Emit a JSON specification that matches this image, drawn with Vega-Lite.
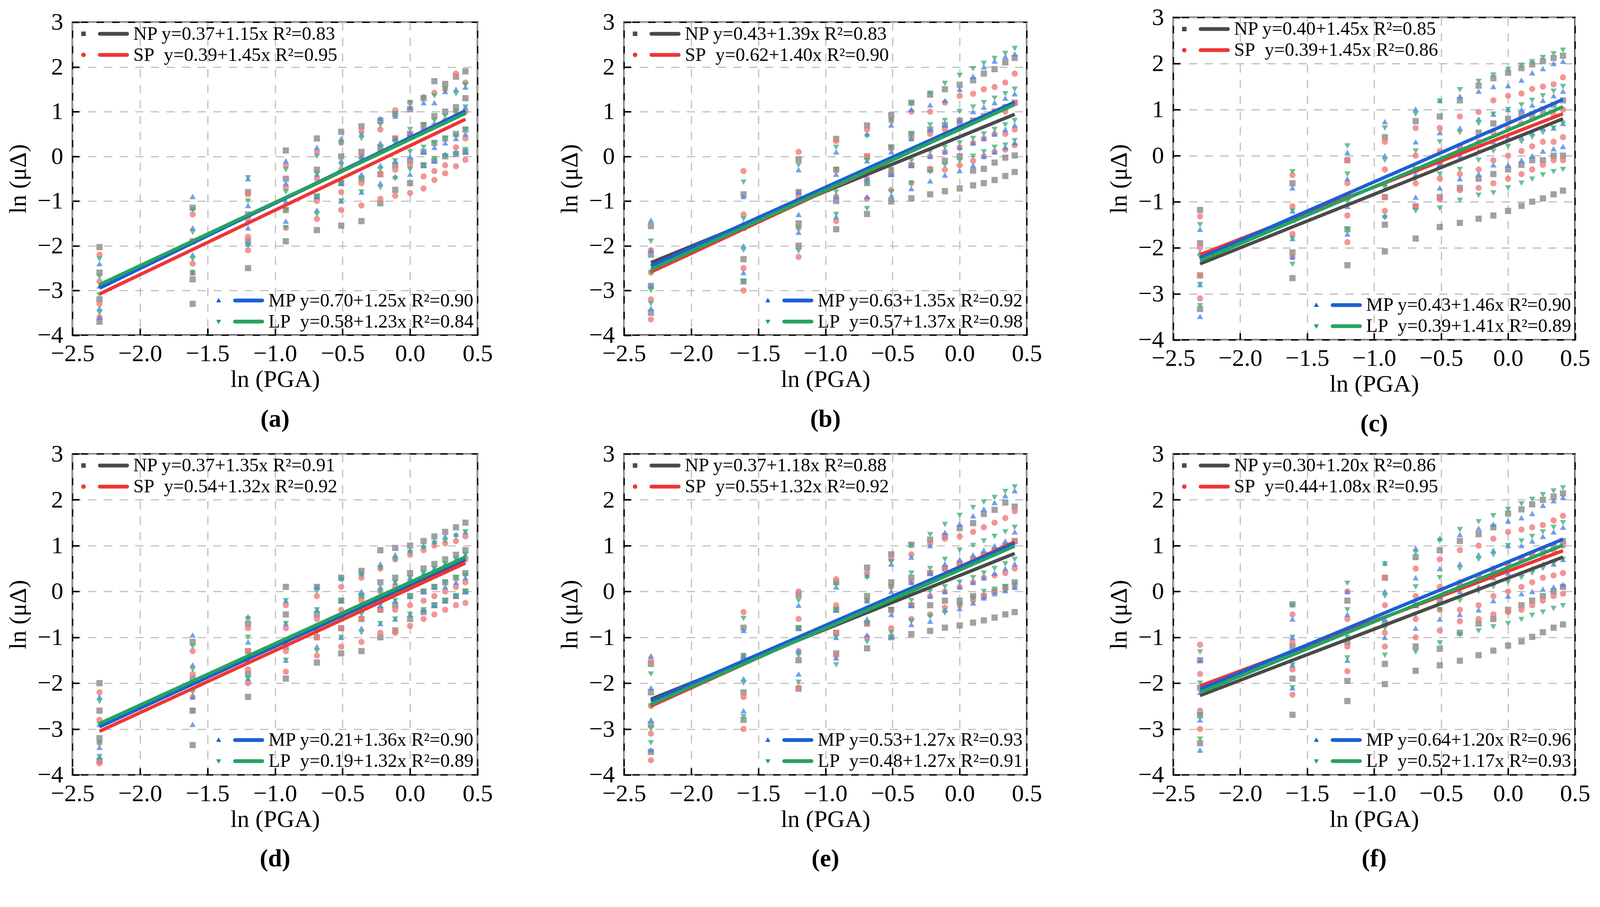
{
  "$schema": "https://vega.github.io/schema/vega-lite/v6.json",
  "background": "white",
  "padding": {"left": 13.6, "top": 11.6, "right": 0, "bottom": 0},
  "columns": 3,
  "spacing": {"row": 292, "column": 375},
  "bounds": "flush",
  "center": true,
  "resolve": {"scale": {"color": "independent", "shape": "independent"}},
  "concat": [
    {
      "width": 1037, "height": 801.5, "title": "(a)",
      "encoding": {
        "x": {"field": "x", "type": "quantitative", "title": "ln (PGA)", "scale": {"domain": [-2.5, 0.5], "nice": false, "zero": false}, "axis": {"values": [-2.5, -2, -1.5, -1, -0.5, 0, 0.5], "format": ".1f"}},
        "y": {"field": "y", "type": "quantitative", "title": "ln (μΔ)", "scale": {"domain": [-4, 3], "nice": false, "zero": false}, "axis": {"values": [-4, -3, -2, -1, 0, 1, 2, 3], "format": "d"}}
      },
      "layer": [
        {"data": {"name": "pa"}, "mark": {"type": "point", "filled": true, "size": 250, "opacity": 0.8, "strokeWidth": 0},
         "encoding": {"color": {"field": "s", "type": "nominal", "scale": {"domain": ["N", "S", "M", "L"], "range": ["#8a8a8a", "#f07a7a", "#4f86ea", "#42b07e"]}, "legend": null},
                      "shape": {"field": "s", "type": "nominal", "scale": {"domain": ["N", "S", "M", "L"], "range": ["square", "circle", "triangle-up", "triangle-down"]}, "legend": null}}},
        {"data": {"name": "la"}, "mark": {"type": "line", "strokeWidth": 8.7},
         "encoding": {"color": {"field": "s", "type": "nominal", "scale": {"domain": ["NP", "SP", "MP", "LP"], "range": ["#4a4a4a", "#ef3535", "#1b5fd6", "#24a45f"]}, "legend": null}}},
        {"data": {"name": "la"}, "transform": [{"filter": {"field": "s", "oneOf": ["NP", "SP"]}}], "mark": {"type": "point", "filled": true, "opacity": 0},
         "encoding": {"color": {"field": "lab", "type": "nominal", "scale": {"range": ["#4a4a4a", "#ef3535"]}, "legend": {"title": null, "orient": "none", "legendX": 22, "legendY": 3}},
                      "shape": {"field": "lab", "type": "nominal", "scale": {"range": ["M-1,-0.095H-0.81V0.095H-1Z M-0.22,-0.08H0.92A0.08,0.08 0 0 1 0.92,0.08H-0.22A0.08,0.08 0 0 1 -0.22,-0.08Z", "M-1,0A0.095,0.095 0 1 1 -0.81,0A0.095,0.095 0 1 1 -1,0Z M-0.22,-0.08H0.92A0.08,0.08 0 0 1 0.92,0.08H-0.22A0.08,0.08 0 0 1 -0.22,-0.08Z"]}}}},
        {"data": {"name": "la"}, "transform": [{"filter": {"field": "s", "oneOf": ["MP", "LP"]}}], "mark": {"type": "point", "filled": true, "opacity": 0},
         "encoding": {"color": {"field": "lab", "type": "nominal", "sort": "descending", "scale": {"range": ["#1b5fd6", "#24a45f"]}, "legend": {"title": null, "orient": "bottom-right", "offset": 8}},
                      "shape": {"field": "lab", "type": "nominal", "sort": "descending", "scale": {"range": ["M-0.905,-0.11L-0.8,0.075H-1.01Z M-0.22,-0.08H0.92A0.08,0.08 0 0 1 0.92,0.08H-0.22A0.08,0.08 0 0 1 -0.22,-0.08Z", "M-0.905,0.11L-0.8,-0.075H-1.01Z M-0.22,-0.08H0.92A0.08,0.08 0 0 1 0.92,0.08H-0.22A0.08,0.08 0 0 1 -0.22,-0.08Z"]}}}}
      ],
      "resolve": {"scale": {"color": "independent", "shape": "independent"}}
    },
    {
      "width": 1031, "height": 801.5, "title": "(b)",
      "encoding": {
        "x": {"field": "x", "type": "quantitative", "title": "ln (PGA)", "scale": {"domain": [-2.5, 0.5], "nice": false, "zero": false}, "axis": {"values": [-2.5, -2, -1.5, -1, -0.5, 0, 0.5], "format": ".1f"}},
        "y": {"field": "y", "type": "quantitative", "title": "ln (μΔ)", "scale": {"domain": [-4, 3], "nice": false, "zero": false}, "axis": {"values": [-4, -3, -2, -1, 0, 1, 2, 3], "format": "d"}}
      },
      "layer": [
        {"data": {"name": "pb"}, "mark": {"type": "point", "filled": true, "size": 250, "opacity": 0.8, "strokeWidth": 0},
         "encoding": {"color": {"field": "s", "type": "nominal", "scale": {"domain": ["N", "S", "M", "L"], "range": ["#8a8a8a", "#f07a7a", "#4f86ea", "#42b07e"]}, "legend": null},
                      "shape": {"field": "s", "type": "nominal", "scale": {"domain": ["N", "S", "M", "L"], "range": ["square", "circle", "triangle-up", "triangle-down"]}, "legend": null}}},
        {"data": {"name": "lb"}, "mark": {"type": "line", "strokeWidth": 8.7},
         "encoding": {"color": {"field": "s", "type": "nominal", "scale": {"domain": ["NP", "SP", "MP", "LP"], "range": ["#4a4a4a", "#ef3535", "#1b5fd6", "#24a45f"]}, "legend": null}}},
        {"data": {"name": "lb"}, "transform": [{"filter": {"field": "s", "oneOf": ["NP", "SP"]}}], "mark": {"type": "point", "filled": true, "opacity": 0},
         "encoding": {"color": {"field": "lab", "type": "nominal", "scale": {"range": ["#4a4a4a", "#ef3535"]}, "legend": {"title": null, "orient": "none", "legendX": 22, "legendY": 3}},
                      "shape": {"field": "lab", "type": "nominal", "scale": {"range": ["M-1,-0.095H-0.81V0.095H-1Z M-0.22,-0.08H0.92A0.08,0.08 0 0 1 0.92,0.08H-0.22A0.08,0.08 0 0 1 -0.22,-0.08Z", "M-1,0A0.095,0.095 0 1 1 -0.81,0A0.095,0.095 0 1 1 -1,0Z M-0.22,-0.08H0.92A0.08,0.08 0 0 1 0.92,0.08H-0.22A0.08,0.08 0 0 1 -0.22,-0.08Z"]}}}},
        {"data": {"name": "lb"}, "transform": [{"filter": {"field": "s", "oneOf": ["MP", "LP"]}}], "mark": {"type": "point", "filled": true, "opacity": 0},
         "encoding": {"color": {"field": "lab", "type": "nominal", "sort": "descending", "scale": {"range": ["#1b5fd6", "#24a45f"]}, "legend": {"title": null, "orient": "bottom-right", "offset": 8}},
                      "shape": {"field": "lab", "type": "nominal", "sort": "descending", "scale": {"range": ["M-0.905,-0.11L-0.8,0.075H-1.01Z M-0.22,-0.08H0.92A0.08,0.08 0 0 1 0.92,0.08H-0.22A0.08,0.08 0 0 1 -0.22,-0.08Z", "M-0.905,0.11L-0.8,-0.075H-1.01Z M-0.22,-0.08H0.92A0.08,0.08 0 0 1 0.92,0.08H-0.22A0.08,0.08 0 0 1 -0.22,-0.08Z"]}}}}
      ],
      "resolve": {"scale": {"color": "independent", "shape": "independent"}}
    },
    {
      "width": 1028.5, "height": 825.7, "title": "(c)",
      "encoding": {
        "x": {"field": "x", "type": "quantitative", "title": "ln (PGA)", "scale": {"domain": [-2.5, 0.5], "nice": false, "zero": false}, "axis": {"values": [-2.5, -2, -1.5, -1, -0.5, 0, 0.5], "format": ".1f"}},
        "y": {"field": "y", "type": "quantitative", "title": "ln (μΔ)", "scale": {"domain": [-4, 3], "nice": false, "zero": false}, "axis": {"values": [-4, -3, -2, -1, 0, 1, 2, 3], "format": "d"}}
      },
      "layer": [
        {"data": {"name": "pc"}, "mark": {"type": "point", "filled": true, "size": 250, "opacity": 0.8, "strokeWidth": 0},
         "encoding": {"color": {"field": "s", "type": "nominal", "scale": {"domain": ["N", "S", "M", "L"], "range": ["#8a8a8a", "#f07a7a", "#4f86ea", "#42b07e"]}, "legend": null},
                      "shape": {"field": "s", "type": "nominal", "scale": {"domain": ["N", "S", "M", "L"], "range": ["square", "circle", "triangle-up", "triangle-down"]}, "legend": null}}},
        {"data": {"name": "lc"}, "mark": {"type": "line", "strokeWidth": 8.7},
         "encoding": {"color": {"field": "s", "type": "nominal", "scale": {"domain": ["NP", "SP", "MP", "LP"], "range": ["#4a4a4a", "#ef3535", "#1b5fd6", "#24a45f"]}, "legend": null}}},
        {"data": {"name": "lc"}, "transform": [{"filter": {"field": "s", "oneOf": ["NP", "SP"]}}], "mark": {"type": "point", "filled": true, "opacity": 0},
         "encoding": {"color": {"field": "lab", "type": "nominal", "scale": {"range": ["#4a4a4a", "#ef3535"]}, "legend": {"title": null, "orient": "none", "legendX": 22, "legendY": 3}},
                      "shape": {"field": "lab", "type": "nominal", "scale": {"range": ["M-1,-0.095H-0.81V0.095H-1Z M-0.22,-0.08H0.92A0.08,0.08 0 0 1 0.92,0.08H-0.22A0.08,0.08 0 0 1 -0.22,-0.08Z", "M-1,0A0.095,0.095 0 1 1 -0.81,0A0.095,0.095 0 1 1 -1,0Z M-0.22,-0.08H0.92A0.08,0.08 0 0 1 0.92,0.08H-0.22A0.08,0.08 0 0 1 -0.22,-0.08Z"]}}}},
        {"data": {"name": "lc"}, "transform": [{"filter": {"field": "s", "oneOf": ["MP", "LP"]}}], "mark": {"type": "point", "filled": true, "opacity": 0},
         "encoding": {"color": {"field": "lab", "type": "nominal", "sort": "descending", "scale": {"range": ["#1b5fd6", "#24a45f"]}, "legend": {"title": null, "orient": "bottom-right", "offset": 8}},
                      "shape": {"field": "lab", "type": "nominal", "sort": "descending", "scale": {"range": ["M-0.905,-0.11L-0.8,0.075H-1.01Z M-0.22,-0.08H0.92A0.08,0.08 0 0 1 0.92,0.08H-0.22A0.08,0.08 0 0 1 -0.22,-0.08Z", "M-0.905,0.11L-0.8,-0.075H-1.01Z M-0.22,-0.08H0.92A0.08,0.08 0 0 1 0.92,0.08H-0.22A0.08,0.08 0 0 1 -0.22,-0.08Z"]}}}}
      ],
      "resolve": {"scale": {"color": "independent", "shape": "independent"}}
    },
    {
      "width": 1037, "height": 822, "title": "(d)",
      "encoding": {
        "x": {"field": "x", "type": "quantitative", "title": "ln (PGA)", "scale": {"domain": [-2.5, 0.5], "nice": false, "zero": false}, "axis": {"values": [-2.5, -2, -1.5, -1, -0.5, 0, 0.5], "format": ".1f"}},
        "y": {"field": "y", "type": "quantitative", "title": "ln (μΔ)", "scale": {"domain": [-4, 3], "nice": false, "zero": false}, "axis": {"values": [-4, -3, -2, -1, 0, 1, 2, 3], "format": "d"}}
      },
      "layer": [
        {"data": {"name": "pd"}, "mark": {"type": "point", "filled": true, "size": 250, "opacity": 0.8, "strokeWidth": 0},
         "encoding": {"color": {"field": "s", "type": "nominal", "scale": {"domain": ["N", "S", "M", "L"], "range": ["#8a8a8a", "#f07a7a", "#4f86ea", "#42b07e"]}, "legend": null},
                      "shape": {"field": "s", "type": "nominal", "scale": {"domain": ["N", "S", "M", "L"], "range": ["square", "circle", "triangle-up", "triangle-down"]}, "legend": null}}},
        {"data": {"name": "ld"}, "mark": {"type": "line", "strokeWidth": 8.7},
         "encoding": {"color": {"field": "s", "type": "nominal", "scale": {"domain": ["NP", "SP", "MP", "LP"], "range": ["#4a4a4a", "#ef3535", "#1b5fd6", "#24a45f"]}, "legend": null}}},
        {"data": {"name": "ld"}, "transform": [{"filter": {"field": "s", "oneOf": ["NP", "SP"]}}], "mark": {"type": "point", "filled": true, "opacity": 0},
         "encoding": {"color": {"field": "lab", "type": "nominal", "scale": {"range": ["#4a4a4a", "#ef3535"]}, "legend": {"title": null, "orient": "none", "legendX": 22, "legendY": 3}},
                      "shape": {"field": "lab", "type": "nominal", "scale": {"range": ["M-1,-0.095H-0.81V0.095H-1Z M-0.22,-0.08H0.92A0.08,0.08 0 0 1 0.92,0.08H-0.22A0.08,0.08 0 0 1 -0.22,-0.08Z", "M-1,0A0.095,0.095 0 1 1 -0.81,0A0.095,0.095 0 1 1 -1,0Z M-0.22,-0.08H0.92A0.08,0.08 0 0 1 0.92,0.08H-0.22A0.08,0.08 0 0 1 -0.22,-0.08Z"]}}}},
        {"data": {"name": "ld"}, "transform": [{"filter": {"field": "s", "oneOf": ["MP", "LP"]}}], "mark": {"type": "point", "filled": true, "opacity": 0},
         "encoding": {"color": {"field": "lab", "type": "nominal", "sort": "descending", "scale": {"range": ["#1b5fd6", "#24a45f"]}, "legend": {"title": null, "orient": "bottom-right", "offset": 8}},
                      "shape": {"field": "lab", "type": "nominal", "sort": "descending", "scale": {"range": ["M-0.905,-0.11L-0.8,0.075H-1.01Z M-0.22,-0.08H0.92A0.08,0.08 0 0 1 0.92,0.08H-0.22A0.08,0.08 0 0 1 -0.22,-0.08Z", "M-0.905,0.11L-0.8,-0.075H-1.01Z M-0.22,-0.08H0.92A0.08,0.08 0 0 1 0.92,0.08H-0.22A0.08,0.08 0 0 1 -0.22,-0.08Z"]}}}}
      ],
      "resolve": {"scale": {"color": "independent", "shape": "independent"}}
    },
    {
      "width": 1031, "height": 822, "title": "(e)",
      "encoding": {
        "x": {"field": "x", "type": "quantitative", "title": "ln (PGA)", "scale": {"domain": [-2.5, 0.5], "nice": false, "zero": false}, "axis": {"values": [-2.5, -2, -1.5, -1, -0.5, 0, 0.5], "format": ".1f"}},
        "y": {"field": "y", "type": "quantitative", "title": "ln (μΔ)", "scale": {"domain": [-4, 3], "nice": false, "zero": false}, "axis": {"values": [-4, -3, -2, -1, 0, 1, 2, 3], "format": "d"}}
      },
      "layer": [
        {"data": {"name": "pe"}, "mark": {"type": "point", "filled": true, "size": 250, "opacity": 0.8, "strokeWidth": 0},
         "encoding": {"color": {"field": "s", "type": "nominal", "scale": {"domain": ["N", "S", "M", "L"], "range": ["#8a8a8a", "#f07a7a", "#4f86ea", "#42b07e"]}, "legend": null},
                      "shape": {"field": "s", "type": "nominal", "scale": {"domain": ["N", "S", "M", "L"], "range": ["square", "circle", "triangle-up", "triangle-down"]}, "legend": null}}},
        {"data": {"name": "le"}, "mark": {"type": "line", "strokeWidth": 8.7},
         "encoding": {"color": {"field": "s", "type": "nominal", "scale": {"domain": ["NP", "SP", "MP", "LP"], "range": ["#4a4a4a", "#ef3535", "#1b5fd6", "#24a45f"]}, "legend": null}}},
        {"data": {"name": "le"}, "transform": [{"filter": {"field": "s", "oneOf": ["NP", "SP"]}}], "mark": {"type": "point", "filled": true, "opacity": 0},
         "encoding": {"color": {"field": "lab", "type": "nominal", "scale": {"range": ["#4a4a4a", "#ef3535"]}, "legend": {"title": null, "orient": "none", "legendX": 22, "legendY": 3}},
                      "shape": {"field": "lab", "type": "nominal", "scale": {"range": ["M-1,-0.095H-0.81V0.095H-1Z M-0.22,-0.08H0.92A0.08,0.08 0 0 1 0.92,0.08H-0.22A0.08,0.08 0 0 1 -0.22,-0.08Z", "M-1,0A0.095,0.095 0 1 1 -0.81,0A0.095,0.095 0 1 1 -1,0Z M-0.22,-0.08H0.92A0.08,0.08 0 0 1 0.92,0.08H-0.22A0.08,0.08 0 0 1 -0.22,-0.08Z"]}}}},
        {"data": {"name": "le"}, "transform": [{"filter": {"field": "s", "oneOf": ["MP", "LP"]}}], "mark": {"type": "point", "filled": true, "opacity": 0},
         "encoding": {"color": {"field": "lab", "type": "nominal", "sort": "descending", "scale": {"range": ["#1b5fd6", "#24a45f"]}, "legend": {"title": null, "orient": "bottom-right", "offset": 8}},
                      "shape": {"field": "lab", "type": "nominal", "sort": "descending", "scale": {"range": ["M-0.905,-0.11L-0.8,0.075H-1.01Z M-0.22,-0.08H0.92A0.08,0.08 0 0 1 0.92,0.08H-0.22A0.08,0.08 0 0 1 -0.22,-0.08Z", "M-0.905,0.11L-0.8,-0.075H-1.01Z M-0.22,-0.08H0.92A0.08,0.08 0 0 1 0.92,0.08H-0.22A0.08,0.08 0 0 1 -0.22,-0.08Z"]}}}}
      ],
      "resolve": {"scale": {"color": "independent", "shape": "independent"}}
    },
    {
      "width": 1028.5, "height": 822, "title": "(f)",
      "encoding": {
        "x": {"field": "x", "type": "quantitative", "title": "ln (PGA)", "scale": {"domain": [-2.5, 0.5], "nice": false, "zero": false}, "axis": {"values": [-2.5, -2, -1.5, -1, -0.5, 0, 0.5], "format": ".1f"}},
        "y": {"field": "y", "type": "quantitative", "title": "ln (μΔ)", "scale": {"domain": [-4, 3], "nice": false, "zero": false}, "axis": {"values": [-4, -3, -2, -1, 0, 1, 2, 3], "format": "d"}}
      },
      "layer": [
        {"data": {"name": "pf"}, "mark": {"type": "point", "filled": true, "size": 250, "opacity": 0.8, "strokeWidth": 0},
         "encoding": {"color": {"field": "s", "type": "nominal", "scale": {"domain": ["N", "S", "M", "L"], "range": ["#8a8a8a", "#f07a7a", "#4f86ea", "#42b07e"]}, "legend": null},
                      "shape": {"field": "s", "type": "nominal", "scale": {"domain": ["N", "S", "M", "L"], "range": ["square", "circle", "triangle-up", "triangle-down"]}, "legend": null}}},
        {"data": {"name": "lf"}, "mark": {"type": "line", "strokeWidth": 8.7},
         "encoding": {"color": {"field": "s", "type": "nominal", "scale": {"domain": ["NP", "SP", "MP", "LP"], "range": ["#4a4a4a", "#ef3535", "#1b5fd6", "#24a45f"]}, "legend": null}}},
        {"data": {"name": "lf"}, "transform": [{"filter": {"field": "s", "oneOf": ["NP", "SP"]}}], "mark": {"type": "point", "filled": true, "opacity": 0},
         "encoding": {"color": {"field": "lab", "type": "nominal", "scale": {"range": ["#4a4a4a", "#ef3535"]}, "legend": {"title": null, "orient": "none", "legendX": 22, "legendY": 3}},
                      "shape": {"field": "lab", "type": "nominal", "scale": {"range": ["M-1,-0.095H-0.81V0.095H-1Z M-0.22,-0.08H0.92A0.08,0.08 0 0 1 0.92,0.08H-0.22A0.08,0.08 0 0 1 -0.22,-0.08Z", "M-1,0A0.095,0.095 0 1 1 -0.81,0A0.095,0.095 0 1 1 -1,0Z M-0.22,-0.08H0.92A0.08,0.08 0 0 1 0.92,0.08H-0.22A0.08,0.08 0 0 1 -0.22,-0.08Z"]}}}},
        {"data": {"name": "lf"}, "transform": [{"filter": {"field": "s", "oneOf": ["MP", "LP"]}}], "mark": {"type": "point", "filled": true, "opacity": 0},
         "encoding": {"color": {"field": "lab", "type": "nominal", "sort": "descending", "scale": {"range": ["#1b5fd6", "#24a45f"]}, "legend": {"title": null, "orient": "bottom-right", "offset": 8}},
                      "shape": {"field": "lab", "type": "nominal", "sort": "descending", "scale": {"range": ["M-0.905,-0.11L-0.8,0.075H-1.01Z M-0.22,-0.08H0.92A0.08,0.08 0 0 1 0.92,0.08H-0.22A0.08,0.08 0 0 1 -0.22,-0.08Z", "M-0.905,0.11L-0.8,-0.075H-1.01Z M-0.22,-0.08H0.92A0.08,0.08 0 0 1 0.92,0.08H-0.22A0.08,0.08 0 0 1 -0.22,-0.08Z"]}}}}
      ],
      "resolve": {"scale": {"color": "independent", "shape": "independent"}}
    }
  ],
  "datasets": {
    "la": [
      {"s": "NP", "lab": "NP y=0.37+1.15x R²=0.83", "x": -2.3, "y": -2.92}, {"s": "NP", "lab": "NP y=0.37+1.15x R²=0.83", "x": 0.41, "y": 0.98},
      {"s": "SP", "lab": "SP\u00a0 y=0.39+1.45x R²=0.95", "x": -2.3, "y": -3.08}, {"s": "SP", "lab": "SP\u00a0 y=0.39+1.45x R²=0.95", "x": 0.41, "y": 0.83},
      {"s": "MP", "lab": "MP y=0.70+1.25x R²=0.90", "x": -2.3, "y": -2.95}, {"s": "MP", "lab": "MP y=0.70+1.25x R²=0.90", "x": 0.41, "y": 1.02},
      {"s": "LP", "lab": "LP\u00a0 y=0.58+1.23x R²=0.84", "x": -2.3, "y": -2.87}, {"s": "LP", "lab": "LP\u00a0 y=0.58+1.23x R²=0.84", "x": 0.41, "y": 0.96}
    ],
    "lb": [
      {"s": "NP", "lab": "NP y=0.43+1.39x R²=0.83", "x": -2.3, "y": -2.38}, {"s": "NP", "lab": "NP y=0.43+1.39x R²=0.83", "x": 0.41, "y": 0.94},
      {"s": "SP", "lab": "SP\u00a0 y=0.62+1.40x R²=0.90", "x": -2.3, "y": -2.59}, {"s": "SP", "lab": "SP\u00a0 y=0.62+1.40x R²=0.90", "x": 0.41, "y": 1.19},
      {"s": "MP", "lab": "MP y=0.63+1.35x R²=0.92", "x": -2.3, "y": -2.45}, {"s": "MP", "lab": "MP y=0.63+1.35x R²=0.92", "x": 0.41, "y": 1.21},
      {"s": "LP", "lab": "LP\u00a0 y=0.57+1.37x R²=0.98", "x": -2.3, "y": -2.53}, {"s": "LP", "lab": "LP\u00a0 y=0.57+1.37x R²=0.98", "x": 0.41, "y": 1.16}
    ],
    "lc": [
      {"s": "NP", "lab": "NP y=0.40+1.45x R²=0.85", "x": -2.3, "y": -2.35}, {"s": "NP", "lab": "NP y=0.40+1.45x R²=0.85", "x": 0.41, "y": 0.8},
      {"s": "SP", "lab": "SP\u00a0 y=0.39+1.45x R²=0.86", "x": -2.3, "y": -2.15}, {"s": "SP", "lab": "SP\u00a0 y=0.39+1.45x R²=0.86", "x": 0.41, "y": 0.91},
      {"s": "MP", "lab": "MP y=0.43+1.46x R²=0.90", "x": -2.3, "y": -2.22}, {"s": "MP", "lab": "MP y=0.43+1.46x R²=0.90", "x": 0.41, "y": 1.22},
      {"s": "LP", "lab": "LP\u00a0 y=0.39+1.41x R²=0.89", "x": -2.3, "y": -2.28}, {"s": "LP", "lab": "LP\u00a0 y=0.39+1.41x R²=0.89", "x": 0.41, "y": 1.06}
    ],
    "ld": [
      {"s": "NP", "lab": "NP y=0.37+1.35x R²=0.91", "x": -2.3, "y": -2.95}, {"s": "NP", "lab": "NP y=0.37+1.35x R²=0.91", "x": 0.41, "y": 0.7},
      {"s": "SP", "lab": "SP\u00a0 y=0.54+1.32x R²=0.92", "x": -2.3, "y": -3.05}, {"s": "SP", "lab": "SP\u00a0 y=0.54+1.32x R²=0.92", "x": 0.41, "y": 0.62},
      {"s": "MP", "lab": "MP y=0.21+1.36x R²=0.90", "x": -2.3, "y": -2.95}, {"s": "MP", "lab": "MP y=0.21+1.36x R²=0.90", "x": 0.41, "y": 0.72},
      {"s": "LP", "lab": "LP\u00a0 y=0.19+1.32x R²=0.89", "x": -2.3, "y": -2.88}, {"s": "LP", "lab": "LP\u00a0 y=0.19+1.32x R²=0.89", "x": 0.41, "y": 0.75}
    ],
    "le": [
      {"s": "NP", "lab": "NP y=0.37+1.18x R²=0.88", "x": -2.3, "y": -2.35}, {"s": "NP", "lab": "NP y=0.37+1.18x R²=0.88", "x": 0.41, "y": 0.83},
      {"s": "SP", "lab": "SP\u00a0 y=0.55+1.32x R²=0.92", "x": -2.3, "y": -2.5}, {"s": "SP", "lab": "SP\u00a0 y=0.55+1.32x R²=0.92", "x": 0.41, "y": 1.08},
      {"s": "MP", "lab": "MP y=0.53+1.27x R²=0.93", "x": -2.3, "y": -2.39}, {"s": "MP", "lab": "MP y=0.53+1.27x R²=0.93", "x": 0.41, "y": 1.05},
      {"s": "LP", "lab": "LP\u00a0 y=0.48+1.27x R²=0.91", "x": -2.3, "y": -2.46}, {"s": "LP", "lab": "LP\u00a0 y=0.48+1.27x R²=0.91", "x": 0.41, "y": 0.99}
    ],
    "lf": [
      {"s": "NP", "lab": "NP y=0.30+1.20x R²=0.86", "x": -2.3, "y": -2.27}, {"s": "NP", "lab": "NP y=0.30+1.20x R²=0.86", "x": 0.41, "y": 0.75},
      {"s": "SP", "lab": "SP\u00a0 y=0.44+1.08x R²=0.95", "x": -2.3, "y": -2.06}, {"s": "SP", "lab": "SP\u00a0 y=0.44+1.08x R²=0.95", "x": 0.41, "y": 0.89},
      {"s": "MP", "lab": "MP y=0.64+1.20x R²=0.96", "x": -2.3, "y": -2.13}, {"s": "MP", "lab": "MP y=0.64+1.20x R²=0.96", "x": 0.41, "y": 1.14},
      {"s": "LP", "lab": "LP\u00a0 y=0.52+1.17x R²=0.93", "x": -2.3, "y": -2.2}, {"s": "LP", "lab": "LP\u00a0 y=0.52+1.17x R²=0.93", "x": 0.41, "y": 1.01}
    ],
    "pa": [
      {"s":"N","x":-2.3,"y":-2.03},{"s":"N","x":-2.3,"y":-2.6},{"s":"N","x":-2.3,"y":-3.2},{"s":"N","x":-2.3,"y":-3.7},
      {"s":"N","x":-1.61,"y":-1.15},{"s":"N","x":-1.61,"y":-1.9},{"s":"N","x":-1.61,"y":-2.75},{"s":"N","x":-1.61,"y":-3.3},
      {"s":"N","x":-1.2,"y":-0.8},{"s":"N","x":-1.2,"y":-1.3},{"s":"N","x":-1.2,"y":-1.9},{"s":"N","x":-1.2,"y":-2.5},
      {"s":"N","x":-0.92,"y":0.13},{"s":"N","x":-0.92,"y":-0.5},{"s":"N","x":-0.92,"y":-1.2},{"s":"N","x":-0.92,"y":-1.9},
      {"s":"N","x":-0.69,"y":0.4},{"s":"N","x":-0.69,"y":-0.3},{"s":"N","x":-0.69,"y":-0.9},{"s":"N","x":-0.69,"y":-1.65},
      {"s":"N","x":-0.51,"y":0.55},{"s":"N","x":-0.51,"y":0},{"s":"N","x":-0.51,"y":-0.6},{"s":"N","x":-0.51,"y":-1.55},
      {"s":"N","x":-0.36,"y":0.67},{"s":"N","x":-0.36,"y":0.1},{"s":"N","x":-0.36,"y":-0.5},{"s":"N","x":-0.36,"y":-1.45},
      {"s":"N","x":-0.22,"y":0.8},{"s":"N","x":-0.22,"y":0.2},{"s":"N","x":-0.22,"y":-0.4},{"s":"N","x":-0.22,"y":-1.05},
      {"s":"N","x":-0.11,"y":0.95},{"s":"N","x":-0.11,"y":0.4},{"s":"N","x":-0.11,"y":-0.2},{"s":"N","x":-0.11,"y":-0.75},
      {"s":"N","x":0,"y":1.05},{"s":"N","x":0,"y":0.5},{"s":"N","x":0,"y":-0.1},{"s":"N","x":0,"y":-0.6},
      {"s":"N","x":0.1,"y":1.3},{"s":"N","x":0.1,"y":0.7},{"s":"N","x":0.1,"y":0.1},{"s":"N","x":0.1,"y":-0.2},
      {"s":"N","x":0.18,"y":1.68},{"s":"N","x":0.18,"y":0.9},{"s":"N","x":0.18,"y":0.3},{"s":"N","x":0.18,"y":-0.1},
      {"s":"N","x":0.26,"y":1.62},{"s":"N","x":0.26,"y":1},{"s":"N","x":0.26,"y":0.4},{"s":"N","x":0.26,"y":0},
      {"s":"N","x":0.34,"y":1.78},{"s":"N","x":0.34,"y":1.1},{"s":"N","x":0.34,"y":0.5},{"s":"N","x":0.34,"y":0.05},
      {"s":"N","x":0.41,"y":1.9},{"s":"N","x":0.41,"y":1.3},{"s":"N","x":0.41,"y":0.6},{"s":"N","x":0.41,"y":0.1},
      {"s":"S","x":-2.3,"y":-2.2},{"s":"S","x":-2.3,"y":-2.8},{"s":"S","x":-2.3,"y":-3.3},{"s":"S","x":-2.3,"y":-3.6},
      {"s":"S","x":-1.61,"y":-1.3},{"s":"S","x":-1.61,"y":-1.9},{"s":"S","x":-1.61,"y":-2.4},{"s":"S","x":-1.61,"y":-2.6},
      {"s":"S","x":-1.2,"y":-0.85},{"s":"S","x":-1.2,"y":-1.4},{"s":"S","x":-1.2,"y":-1.8},{"s":"S","x":-1.2,"y":-2.1},
      {"s":"S","x":-0.92,"y":-0.2},{"s":"S","x":-0.92,"y":-0.7},{"s":"S","x":-0.92,"y":-1.2},{"s":"S","x":-0.92,"y":-1.6},
      {"s":"S","x":-0.69,"y":0.1},{"s":"S","x":-0.69,"y":-0.5},{"s":"S","x":-0.69,"y":-1},{"s":"S","x":-0.69,"y":-1.4},
      {"s":"S","x":-0.51,"y":0.3},{"s":"S","x":-0.51,"y":-0.3},{"s":"S","x":-0.51,"y":-0.8},{"s":"S","x":-0.51,"y":-1.2},
      {"s":"S","x":-0.36,"y":0.55},{"s":"S","x":-0.36,"y":0},{"s":"S","x":-0.36,"y":-0.6},{"s":"S","x":-0.36,"y":-1.1},
      {"s":"S","x":-0.22,"y":0.6},{"s":"S","x":-0.22,"y":0.1},{"s":"S","x":-0.22,"y":-0.4},{"s":"S","x":-0.22,"y":-0.95},
      {"s":"S","x":-0.11,"y":1.03},{"s":"S","x":-0.11,"y":0.4},{"s":"S","x":-0.11,"y":-0.3},{"s":"S","x":-0.11,"y":-0.88},
      {"s":"S","x":0,"y":1.2},{"s":"S","x":0,"y":0.5},{"s":"S","x":0,"y":-0.2},{"s":"S","x":0,"y":-0.82},
      {"s":"S","x":0.1,"y":1.32},{"s":"S","x":0.1,"y":0.6},{"s":"S","x":0.1,"y":-0.45},{"s":"S","x":0.1,"y":-0.72},
      {"s":"S","x":0.18,"y":1.42},{"s":"S","x":0.18,"y":0.7},{"s":"S","x":0.18,"y":-0.33},{"s":"S","x":0.18,"y":-0.53},
      {"s":"S","x":0.26,"y":1.5},{"s":"S","x":0.26,"y":0.8},{"s":"S","x":0.26,"y":-0.2},{"s":"S","x":0.26,"y":-0.38},
      {"s":"S","x":0.34,"y":1.85},{"s":"S","x":0.34,"y":1},{"s":"S","x":0.34,"y":0.2},{"s":"S","x":0.34,"y":-0.22},
      {"s":"S","x":0.41,"y":1.65},{"s":"S","x":0.41,"y":1},{"s":"S","x":0.41,"y":0.4},{"s":"S","x":0.41,"y":-0.08},
      {"s":"M","x":-2.3,"y":-2.4},{"s":"M","x":-2.3,"y":-2.9},{"s":"M","x":-2.3,"y":-3.4},{"s":"M","x":-2.3,"y":-3.6},
      {"s":"M","x":-1.61,"y":-0.9},{"s":"M","x":-1.61,"y":-1.6},{"s":"M","x":-1.61,"y":-2.2},{"s":"M","x":-1.61,"y":-2.6},
      {"s":"M","x":-1.2,"y":-0.5},{"s":"M","x":-1.2,"y":-1.1},{"s":"M","x":-1.2,"y":-1.6},{"s":"M","x":-1.2,"y":-1.95},
      {"s":"M","x":-0.92,"y":-0.1},{"s":"M","x":-0.92,"y":-0.6},{"s":"M","x":-0.92,"y":-1},{"s":"M","x":-0.92,"y":-1.45},
      {"s":"M","x":-0.69,"y":0.2},{"s":"M","x":-0.69,"y":-0.4},{"s":"M","x":-0.69,"y":-0.9},{"s":"M","x":-0.69,"y":-1.2},
      {"s":"M","x":-0.51,"y":0.4},{"s":"M","x":-0.51,"y":-0.1},{"s":"M","x":-0.51,"y":-0.6},{"s":"M","x":-0.51,"y":-1},
      {"s":"M","x":-0.36,"y":0.5},{"s":"M","x":-0.36,"y":0},{"s":"M","x":-0.36,"y":-0.4},{"s":"M","x":-0.36,"y":-0.8},
      {"s":"M","x":-0.22,"y":0.85},{"s":"M","x":-0.22,"y":0.3},{"s":"M","x":-0.22,"y":-0.2},{"s":"M","x":-0.22,"y":-0.6},
      {"s":"M","x":-0.11,"y":0.9},{"s":"M","x":-0.11,"y":0.4},{"s":"M","x":-0.11,"y":-0.1},{"s":"M","x":-0.11,"y":-0.45},
      {"s":"M","x":0,"y":1.1},{"s":"M","x":0,"y":0.5},{"s":"M","x":0,"y":0},{"s":"M","x":0,"y":-0.4},
      {"s":"M","x":0.1,"y":1.2},{"s":"M","x":0.1,"y":0.6},{"s":"M","x":0.1,"y":0.1},{"s":"M","x":0.1,"y":-0.2},
      {"s":"M","x":0.18,"y":1.2},{"s":"M","x":0.18,"y":0.7},{"s":"M","x":0.18,"y":0.2},{"s":"M","x":0.18,"y":-0.1},
      {"s":"M","x":0.26,"y":1.45},{"s":"M","x":0.26,"y":0.8},{"s":"M","x":0.26,"y":0.3},{"s":"M","x":0.26,"y":0.05},
      {"s":"M","x":0.34,"y":1.5},{"s":"M","x":0.34,"y":0.9},{"s":"M","x":0.34,"y":0.4},{"s":"M","x":0.34,"y":0.1},
      {"s":"M","x":0.41,"y":1.55},{"s":"M","x":0.41,"y":1.1},{"s":"M","x":0.41,"y":0.5},{"s":"M","x":0.41,"y":0.1},
      {"s":"L","x":-2.3,"y":-2.3},{"s":"L","x":-2.3,"y":-2.7},{"s":"L","x":-2.3,"y":-3.1},{"s":"L","x":-2.3,"y":-3.5},
      {"s":"L","x":-1.61,"y":-1.2},{"s":"L","x":-1.61,"y":-1.7},{"s":"L","x":-1.61,"y":-2.3},{"s":"L","x":-1.61,"y":-2.6},
      {"s":"L","x":-1.2,"y":-0.48},{"s":"L","x":-1.2,"y":-1},{"s":"L","x":-1.2,"y":-1.5},{"s":"L","x":-1.2,"y":-2},
      {"s":"L","x":-0.92,"y":-0.3},{"s":"L","x":-0.92,"y":-0.8},{"s":"L","x":-0.92,"y":-1.2},{"s":"L","x":-0.92,"y":-1.6},
      {"s":"L","x":-0.69,"y":0},{"s":"L","x":-0.69,"y":-0.4},{"s":"L","x":-0.69,"y":-0.9},{"s":"L","x":-0.69,"y":-1.3},
      {"s":"L","x":-0.51,"y":0.3},{"s":"L","x":-0.51,"y":-0.2},{"s":"L","x":-0.51,"y":-0.6},{"s":"L","x":-0.51,"y":-1},
      {"s":"L","x":-0.36,"y":0.4},{"s":"L","x":-0.36,"y":-0.1},{"s":"L","x":-0.36,"y":-0.5},{"s":"L","x":-0.36,"y":-0.8},
      {"s":"L","x":-0.22,"y":0.7},{"s":"L","x":-0.22,"y":0.2},{"s":"L","x":-0.22,"y":-0.3},{"s":"L","x":-0.22,"y":-0.7},
      {"s":"L","x":-0.11,"y":0.95},{"s":"L","x":-0.11,"y":0.3},{"s":"L","x":-0.11,"y":-0.1},{"s":"L","x":-0.11,"y":-0.5},
      {"s":"L","x":0,"y":1.2},{"s":"L","x":0,"y":0.6},{"s":"L","x":0,"y":0.1},{"s":"L","x":0,"y":-0.3},
      {"s":"L","x":0.1,"y":1.3},{"s":"L","x":0.1,"y":0.7},{"s":"L","x":0.1,"y":0.2},{"s":"L","x":0.1,"y":-0.2},
      {"s":"L","x":0.18,"y":1.35},{"s":"L","x":0.18,"y":0.8},{"s":"L","x":0.18,"y":0.3},{"s":"L","x":0.18,"y":-0.05},
      {"s":"L","x":0.26,"y":1.5},{"s":"L","x":0.26,"y":0.9},{"s":"L","x":0.26,"y":0.4},{"s":"L","x":0.26,"y":0},
      {"s":"L","x":0.34,"y":1.4},{"s":"L","x":0.34,"y":1},{"s":"L","x":0.34,"y":0.45},{"s":"L","x":0.34,"y":0.05},
      {"s":"L","x":0.41,"y":1.6},{"s":"L","x":0.41,"y":1.1},{"s":"L","x":0.41,"y":0.6},{"s":"L","x":0.41,"y":0.15}
    ],
    "pb": [
      {"s":"N","x":-2.3,"y":-1.56},{"s":"N","x":-2.3,"y":-2.2},{"s":"N","x":-2.3,"y":-2.9},{"s":"N","x":-2.3,"y":-3.5},
      {"s":"N","x":-1.61,"y":-0.85},{"s":"N","x":-1.61,"y":-1.6},{"s":"N","x":-1.61,"y":-2.3},{"s":"N","x":-1.61,"y":-2.8},
      {"s":"N","x":-1.2,"y":-0.07},{"s":"N","x":-1.2,"y":-0.8},{"s":"N","x":-1.2,"y":-1.5},{"s":"N","x":-1.2,"y":-2},
      {"s":"N","x":-0.92,"y":0.39},{"s":"N","x":-0.92,"y":-0.3},{"s":"N","x":-0.92,"y":-1},{"s":"N","x":-0.92,"y":-1.63},
      {"s":"N","x":-0.69,"y":0.69},{"s":"N","x":-0.69,"y":0},{"s":"N","x":-0.69,"y":-0.6},{"s":"N","x":-0.69,"y":-1.29},
      {"s":"N","x":-0.51,"y":0.92},{"s":"N","x":-0.51,"y":0.2},{"s":"N","x":-0.51,"y":-0.4},{"s":"N","x":-0.51,"y":-1.01},
      {"s":"N","x":-0.36,"y":1.2},{"s":"N","x":-0.36,"y":0.5},{"s":"N","x":-0.36,"y":-0.2},{"s":"N","x":-0.36,"y":-0.94},
      {"s":"N","x":-0.22,"y":1.38},{"s":"N","x":-0.22,"y":0.6},{"s":"N","x":-0.22,"y":-0.3},{"s":"N","x":-0.22,"y":-0.85},
      {"s":"N","x":-0.11,"y":1.5},{"s":"N","x":-0.11,"y":0.7},{"s":"N","x":-0.11,"y":-0.1},{"s":"N","x":-0.11,"y":-0.78},
      {"s":"N","x":0,"y":1.6},{"s":"N","x":0,"y":0.8},{"s":"N","x":0,"y":0},{"s":"N","x":0,"y":-0.72},
      {"s":"N","x":0.1,"y":1.7},{"s":"N","x":0.1,"y":0.8},{"s":"N","x":0.1,"y":-0.32},{"s":"N","x":0.1,"y":-0.65},
      {"s":"N","x":0.18,"y":1.85},{"s":"N","x":0.18,"y":0.9},{"s":"N","x":0.18,"y":-0.28},{"s":"N","x":0.18,"y":-0.6},
      {"s":"N","x":0.26,"y":1.95},{"s":"N","x":0.26,"y":1},{"s":"N","x":0.26,"y":-0.14},{"s":"N","x":0.26,"y":-0.53},
      {"s":"N","x":0.34,"y":2.1},{"s":"N","x":0.34,"y":1.1},{"s":"N","x":0.34,"y":-0.03},{"s":"N","x":0.34,"y":-0.44},
      {"s":"N","x":0.41,"y":2.2},{"s":"N","x":0.41,"y":1.2},{"s":"N","x":0.41,"y":0.02},{"s":"N","x":0.41,"y":-0.35},
      {"s":"S","x":-2.3,"y":-2.1},{"s":"S","x":-2.3,"y":-2.6},{"s":"S","x":-2.3,"y":-3.2},{"s":"S","x":-2.3,"y":-3.65},
      {"s":"S","x":-1.61,"y":-0.33},{"s":"S","x":-1.61,"y":-1.3},{"s":"S","x":-1.61,"y":-2.5},{"s":"S","x":-1.61,"y":-3},
      {"s":"S","x":-1.2,"y":0.1},{"s":"S","x":-1.2,"y":-0.9},{"s":"S","x":-1.2,"y":-1.6},{"s":"S","x":-1.2,"y":-2.25},
      {"s":"S","x":-0.92,"y":0.34},{"s":"S","x":-0.92,"y":-0.3},{"s":"S","x":-0.92,"y":-0.9},{"s":"S","x":-0.92,"y":-1.45},
      {"s":"S","x":-0.69,"y":0.6},{"s":"S","x":-0.69,"y":0},{"s":"S","x":-0.69,"y":-0.5},{"s":"S","x":-0.69,"y":-0.95},
      {"s":"S","x":-0.51,"y":0.8},{"s":"S","x":-0.51,"y":0.2},{"s":"S","x":-0.51,"y":-0.3},{"s":"S","x":-0.51,"y":-0.75},
      {"s":"S","x":-0.36,"y":1},{"s":"S","x":-0.36,"y":0.4},{"s":"S","x":-0.36,"y":-0.2},{"s":"S","x":-0.36,"y":-0.6},
      {"s":"S","x":-0.22,"y":1},{"s":"S","x":-0.22,"y":0.5},{"s":"S","x":-0.22,"y":0},{"s":"S","x":-0.22,"y":-0.28},
      {"s":"S","x":-0.11,"y":1.2},{"s":"S","x":-0.11,"y":0.6},{"s":"S","x":-0.11,"y":0.1},{"s":"S","x":-0.11,"y":-0.3},
      {"s":"S","x":0,"y":1.35},{"s":"S","x":0,"y":0.7},{"s":"S","x":0,"y":0.2},{"s":"S","x":0,"y":-0.2},
      {"s":"S","x":0.1,"y":1.4},{"s":"S","x":0.1,"y":0.8},{"s":"S","x":0.1,"y":0.3},{"s":"S","x":0.1,"y":-0.1},
      {"s":"S","x":0.18,"y":1.5},{"s":"S","x":0.18,"y":0.9},{"s":"S","x":0.18,"y":0.4},{"s":"S","x":0.18,"y":0},
      {"s":"S","x":0.26,"y":1.55},{"s":"S","x":0.26,"y":1},{"s":"S","x":0.26,"y":0.5},{"s":"S","x":0.26,"y":0.1},
      {"s":"S","x":0.34,"y":1.65},{"s":"S","x":0.34,"y":1},{"s":"S","x":0.34,"y":0.5},{"s":"S","x":0.34,"y":0.15},
      {"s":"S","x":0.41,"y":1.85},{"s":"S","x":0.41,"y":1.2},{"s":"S","x":0.41,"y":0.6},{"s":"S","x":0.41,"y":0.25},
      {"s":"M","x":-2.3,"y":-1.43},{"s":"M","x":-2.3,"y":-2.1},{"s":"M","x":-2.3,"y":-2.9},{"s":"M","x":-2.3,"y":-3.4},
      {"s":"M","x":-1.61,"y":-0.9},{"s":"M","x":-1.61,"y":-1.5},{"s":"M","x":-1.61,"y":-2},{"s":"M","x":-1.61,"y":-2.6},
      {"s":"M","x":-1.2,"y":-0.3},{"s":"M","x":-1.2,"y":-0.8},{"s":"M","x":-1.2,"y":-1.3},{"s":"M","x":-1.2,"y":-1.7},
      {"s":"M","x":-0.92,"y":0.1},{"s":"M","x":-0.92,"y":-0.4},{"s":"M","x":-0.92,"y":-0.9},{"s":"M","x":-0.92,"y":-1.35},
      {"s":"M","x":-0.69,"y":0.5},{"s":"M","x":-0.69,"y":-0.1},{"s":"M","x":-0.69,"y":-0.5},{"s":"M","x":-0.69,"y":-0.9},
      {"s":"M","x":-0.51,"y":0.7},{"s":"M","x":-0.51,"y":0.1},{"s":"M","x":-0.51,"y":-0.4},{"s":"M","x":-0.51,"y":-0.88},
      {"s":"M","x":-0.36,"y":1.05},{"s":"M","x":-0.36,"y":0.4},{"s":"M","x":-0.36,"y":-0.2},{"s":"M","x":-0.36,"y":-0.72},
      {"s":"M","x":-0.22,"y":1.15},{"s":"M","x":-0.22,"y":0.6},{"s":"M","x":-0.22,"y":0},{"s":"M","x":-0.22,"y":-0.55},
      {"s":"M","x":-0.11,"y":1.25},{"s":"M","x":-0.11,"y":0.7},{"s":"M","x":-0.11,"y":0.1},{"s":"M","x":-0.11,"y":-0.42},
      {"s":"M","x":0,"y":1.5},{"s":"M","x":0,"y":0.8},{"s":"M","x":0,"y":0.2},{"s":"M","x":0,"y":-0.32},
      {"s":"M","x":0.1,"y":1.79},{"s":"M","x":0.1,"y":1},{"s":"M","x":0.1,"y":0.3},{"s":"M","x":0.1,"y":-0.2},
      {"s":"M","x":0.18,"y":2},{"s":"M","x":0.18,"y":1.1},{"s":"M","x":0.18,"y":0.4},{"s":"M","x":0.18,"y":0},
      {"s":"M","x":0.26,"y":2.13},{"s":"M","x":0.26,"y":1.2},{"s":"M","x":0.26,"y":0.5},{"s":"M","x":0.26,"y":0.1},
      {"s":"M","x":0.34,"y":2.23},{"s":"M","x":0.34,"y":1.3},{"s":"M","x":0.34,"y":0.6},{"s":"M","x":0.34,"y":0.2},
      {"s":"M","x":0.41,"y":2.29},{"s":"M","x":0.41,"y":1.4},{"s":"M","x":0.41,"y":0.7},{"s":"M","x":0.41,"y":0.3},
      {"s":"L","x":-2.3,"y":-1.9},{"s":"L","x":-2.3,"y":-2.6},{"s":"L","x":-2.3,"y":-3},{"s":"L","x":-2.3,"y":-3.3},
      {"s":"L","x":-1.61,"y":-0.58},{"s":"L","x":-1.61,"y":-1.4},{"s":"L","x":-1.61,"y":-2.1},{"s":"L","x":-1.61,"y":-2.8},
      {"s":"L","x":-1.2,"y":-0.2},{"s":"L","x":-1.2,"y":-1},{"s":"L","x":-1.2,"y":-1.6},{"s":"L","x":-1.2,"y":-2.12},
      {"s":"L","x":-0.92,"y":0.2},{"s":"L","x":-0.92,"y":-0.3},{"s":"L","x":-0.92,"y":-0.8},{"s":"L","x":-0.92,"y":-1.3},
      {"s":"L","x":-0.69,"y":0.45},{"s":"L","x":-0.69,"y":-0.1},{"s":"L","x":-0.69,"y":-0.6},{"s":"L","x":-0.69,"y":-1.17},
      {"s":"L","x":-0.51,"y":0.8},{"s":"L","x":-0.51,"y":0.2},{"s":"L","x":-0.51,"y":-0.3},{"s":"L","x":-0.51,"y":-0.8},
      {"s":"L","x":-0.36,"y":1.17},{"s":"L","x":-0.36,"y":0.5},{"s":"L","x":-0.36,"y":-0.1},{"s":"L","x":-0.36,"y":-0.6},
      {"s":"L","x":-0.22,"y":1.41},{"s":"L","x":-0.22,"y":0.7},{"s":"L","x":-0.22,"y":0.1},{"s":"L","x":-0.22,"y":-0.35},
      {"s":"L","x":-0.11,"y":1.63},{"s":"L","x":-0.11,"y":0.8},{"s":"L","x":-0.11,"y":0.2},{"s":"L","x":-0.11,"y":-0.2},
      {"s":"L","x":0,"y":1.81},{"s":"L","x":0,"y":1},{"s":"L","x":0,"y":0.3},{"s":"L","x":0,"y":-0.1},
      {"s":"L","x":0.1,"y":1.96},{"s":"L","x":0.1,"y":1.1},{"s":"L","x":0.1,"y":0.4},{"s":"L","x":0.1,"y":0},
      {"s":"L","x":0.18,"y":2.08},{"s":"L","x":0.18,"y":1.2},{"s":"L","x":0.18,"y":0.5},{"s":"L","x":0.18,"y":0.1},
      {"s":"L","x":0.26,"y":2.19},{"s":"L","x":0.26,"y":1.3},{"s":"L","x":0.26,"y":0.6},{"s":"L","x":0.26,"y":0.2},
      {"s":"L","x":0.34,"y":2.3},{"s":"L","x":0.34,"y":1.4},{"s":"L","x":0.34,"y":0.7},{"s":"L","x":0.34,"y":0.25},
      {"s":"L","x":0.41,"y":2.41},{"s":"L","x":0.41,"y":1.5},{"s":"L","x":0.41,"y":0.8},{"s":"L","x":0.41,"y":0.35}
    ],
    "pc": [
      {"s":"N","x":-2.3,"y":-1.18},{"s":"N","x":-2.3,"y":-1.9},{"s":"N","x":-2.3,"y":-2.6},{"s":"N","x":-2.3,"y":-3.33},
      {"s":"N","x":-1.61,"y":-0.6},{"s":"N","x":-1.61,"y":-1.4},{"s":"N","x":-1.61,"y":-2.1},{"s":"N","x":-1.61,"y":-2.66},
      {"s":"N","x":-1.2,"y":-0.1},{"s":"N","x":-1.2,"y":-0.9},{"s":"N","x":-1.2,"y":-1.6},{"s":"N","x":-1.2,"y":-2.38},
      {"s":"N","x":-0.92,"y":0.4},{"s":"N","x":-0.92,"y":-0.9},{"s":"N","x":-0.92,"y":-1.5},{"s":"N","x":-0.92,"y":-2.08},
      {"s":"N","x":-0.69,"y":0.75},{"s":"N","x":-0.69,"y":-0.3},{"s":"N","x":-0.69,"y":-1.1},{"s":"N","x":-0.69,"y":-1.8},
      {"s":"N","x":-0.51,"y":0.85},{"s":"N","x":-0.51,"y":-0.2},{"s":"N","x":-0.51,"y":-0.9},{"s":"N","x":-0.51,"y":-1.55},
      {"s":"N","x":-0.36,"y":1.2},{"s":"N","x":-0.36,"y":0.2},{"s":"N","x":-0.36,"y":-0.7},{"s":"N","x":-0.36,"y":-1.46},
      {"s":"N","x":-0.22,"y":1.52},{"s":"N","x":-0.22,"y":0.5},{"s":"N","x":-0.22,"y":-0.5},{"s":"N","x":-0.22,"y":-1.37},
      {"s":"N","x":-0.11,"y":1.68},{"s":"N","x":-0.11,"y":0.7},{"s":"N","x":-0.11,"y":-0.4},{"s":"N","x":-0.11,"y":-1.3},
      {"s":"N","x":0,"y":1.8},{"s":"N","x":0,"y":0.8},{"s":"N","x":0,"y":-0.3},{"s":"N","x":0,"y":-1.2},
      {"s":"N","x":0.1,"y":1.9},{"s":"N","x":0.1,"y":0.9},{"s":"N","x":0.1,"y":-0.2},{"s":"N","x":0.1,"y":-1.09},
      {"s":"N","x":0.18,"y":1.98},{"s":"N","x":0.18,"y":0.9},{"s":"N","x":0.18,"y":-0.1},{"s":"N","x":0.18,"y":-1},
      {"s":"N","x":0.26,"y":2.05},{"s":"N","x":0.26,"y":1},{"s":"N","x":0.26,"y":-0.1},{"s":"N","x":0.26,"y":-0.93},
      {"s":"N","x":0.34,"y":2.12},{"s":"N","x":0.34,"y":1.1},{"s":"N","x":0.34,"y":0},{"s":"N","x":0.34,"y":-0.84},
      {"s":"N","x":0.41,"y":2.17},{"s":"N","x":0.41,"y":1.2},{"s":"N","x":0.41,"y":0},{"s":"N","x":0.41,"y":-0.76},
      {"s":"S","x":-2.3,"y":-1.32},{"s":"S","x":-2.3,"y":-2},{"s":"S","x":-2.3,"y":-2.6},{"s":"S","x":-2.3,"y":-3.1},
      {"s":"S","x":-1.61,"y":-0.42},{"s":"S","x":-1.61,"y":-1.1},{"s":"S","x":-1.61,"y":-1.7},{"s":"S","x":-1.61,"y":-2.2},
      {"s":"S","x":-1.2,"y":-0.1},{"s":"S","x":-1.2,"y":-0.6},{"s":"S","x":-1.2,"y":-1.3},{"s":"S","x":-1.2,"y":-1.88},
      {"s":"S","x":-0.92,"y":0.3},{"s":"S","x":-0.92,"y":-0.3},{"s":"S","x":-0.92,"y":-0.9},{"s":"S","x":-0.92,"y":-1.2},
      {"s":"S","x":-0.69,"y":0.6},{"s":"S","x":-0.69,"y":0},{"s":"S","x":-0.69,"y":-0.6},{"s":"S","x":-0.69,"y":-1.1},
      {"s":"S","x":-0.51,"y":0.6},{"s":"S","x":-0.51,"y":0.1},{"s":"S","x":-0.51,"y":-0.5},{"s":"S","x":-0.51,"y":-0.95},
      {"s":"S","x":-0.36,"y":0.85},{"s":"S","x":-0.36,"y":0.2},{"s":"S","x":-0.36,"y":-0.4},{"s":"S","x":-0.36,"y":-0.75},
      {"s":"S","x":-0.22,"y":0.95},{"s":"S","x":-0.22,"y":0.3},{"s":"S","x":-0.22,"y":-0.3},{"s":"S","x":-0.22,"y":-0.7},
      {"s":"S","x":-0.11,"y":1.2},{"s":"S","x":-0.11,"y":0.5},{"s":"S","x":-0.11,"y":-0.1},{"s":"S","x":-0.11,"y":-0.6},
      {"s":"S","x":0,"y":1.3},{"s":"S","x":0,"y":0.6},{"s":"S","x":0,"y":0},{"s":"S","x":0,"y":-0.5},
      {"s":"S","x":0.1,"y":1.35},{"s":"S","x":0.1,"y":0.7},{"s":"S","x":0.1,"y":0.1},{"s":"S","x":0.1,"y":-0.4},
      {"s":"S","x":0.18,"y":1.45},{"s":"S","x":0.18,"y":0.8},{"s":"S","x":0.18,"y":0.2},{"s":"S","x":0.18,"y":-0.3},
      {"s":"S","x":0.26,"y":1.5},{"s":"S","x":0.26,"y":0.9},{"s":"S","x":0.26,"y":0.3},{"s":"S","x":0.26,"y":-0.2},
      {"s":"S","x":0.34,"y":1.55},{"s":"S","x":0.34,"y":0.9},{"s":"S","x":0.34,"y":0.3},{"s":"S","x":0.34,"y":-0.1},
      {"s":"S","x":0.41,"y":1.7},{"s":"S","x":0.41,"y":1},{"s":"S","x":0.41,"y":0.4},{"s":"S","x":0.41,"y":-0.1},
      {"s":"M","x":-2.3,"y":-1.6},{"s":"M","x":-2.3,"y":-2.1},{"s":"M","x":-2.3,"y":-2.8},{"s":"M","x":-2.3,"y":-3.49},
      {"s":"M","x":-1.61,"y":-0.7},{"s":"M","x":-1.61,"y":-1.2},{"s":"M","x":-1.61,"y":-1.8},{"s":"M","x":-1.61,"y":-2.2},
      {"s":"M","x":-1.2,"y":0.07},{"s":"M","x":-1.2,"y":-0.5},{"s":"M","x":-1.2,"y":-1.1},{"s":"M","x":-1.2,"y":-1.7},
      {"s":"M","x":-0.92,"y":0.74},{"s":"M","x":-0.92,"y":0},{"s":"M","x":-0.92,"y":-0.6},{"s":"M","x":-0.92,"y":-1.3},
      {"s":"M","x":-0.69,"y":1.01},{"s":"M","x":-0.69,"y":0.3},{"s":"M","x":-0.69,"y":-0.4},{"s":"M","x":-0.69,"y":-0.9},
      {"s":"M","x":-0.51,"y":1.2},{"s":"M","x":-0.51,"y":0.5},{"s":"M","x":-0.51,"y":-0.2},{"s":"M","x":-0.51,"y":-0.7},
      {"s":"M","x":-0.36,"y":1.29},{"s":"M","x":-0.36,"y":0.6},{"s":"M","x":-0.36,"y":0},{"s":"M","x":-0.36,"y":-0.5},
      {"s":"M","x":-0.22,"y":1.4},{"s":"M","x":-0.22,"y":0.8},{"s":"M","x":-0.22,"y":0.1},{"s":"M","x":-0.22,"y":-0.4},
      {"s":"M","x":-0.11,"y":1.5},{"s":"M","x":-0.11,"y":0.9},{"s":"M","x":-0.11,"y":0.3},{"s":"M","x":-0.11,"y":-0.2},
      {"s":"M","x":0,"y":1.52},{"s":"M","x":0,"y":1},{"s":"M","x":0,"y":0.4},{"s":"M","x":0,"y":-0.2},
      {"s":"M","x":0.1,"y":1.64},{"s":"M","x":0.1,"y":1},{"s":"M","x":0.1,"y":0.4},{"s":"M","x":0.1,"y":-0.1},
      {"s":"M","x":0.18,"y":1.8},{"s":"M","x":0.18,"y":1.1},{"s":"M","x":0.18,"y":0.5},{"s":"M","x":0.18,"y":0},
      {"s":"M","x":0.26,"y":1.89},{"s":"M","x":0.26,"y":1.2},{"s":"M","x":0.26,"y":0.6},{"s":"M","x":0.26,"y":0.1},
      {"s":"M","x":0.34,"y":2},{"s":"M","x":0.34,"y":1.3},{"s":"M","x":0.34,"y":0.6},{"s":"M","x":0.34,"y":0.15},
      {"s":"M","x":0.41,"y":2.05},{"s":"M","x":0.41,"y":1.4},{"s":"M","x":0.41,"y":0.7},{"s":"M","x":0.41,"y":0.2},
      {"s":"L","x":-2.3,"y":-1.5},{"s":"L","x":-2.3,"y":-2.2},{"s":"L","x":-2.3,"y":-2.8},{"s":"L","x":-2.3,"y":-3.26},
      {"s":"L","x":-1.61,"y":-0.35},{"s":"L","x":-1.61,"y":-1.2},{"s":"L","x":-1.61,"y":-1.8},{"s":"L","x":-1.61,"y":-2.36},
      {"s":"L","x":-1.2,"y":0.21},{"s":"L","x":-1.2,"y":-0.4},{"s":"L","x":-1.2,"y":-1},{"s":"L","x":-1.2,"y":-1.6},
      {"s":"L","x":-0.92,"y":0.6},{"s":"L","x":-0.92,"y":-0.1},{"s":"L","x":-0.92,"y":-0.7},{"s":"L","x":-0.92,"y":-1.35},
      {"s":"L","x":-0.69,"y":0.9},{"s":"L","x":-0.69,"y":0.1},{"s":"L","x":-0.69,"y":-0.5},{"s":"L","x":-0.69,"y":-1.2},
      {"s":"L","x":-0.51,"y":1.18},{"s":"L","x":-0.51,"y":0.3},{"s":"L","x":-0.51,"y":-0.4},{"s":"L","x":-0.51,"y":-1.14},
      {"s":"L","x":-0.36,"y":1.43},{"s":"L","x":-0.36,"y":0.5},{"s":"L","x":-0.36,"y":-0.3},{"s":"L","x":-0.36,"y":-0.97},
      {"s":"L","x":-0.22,"y":1.61},{"s":"L","x":-0.22,"y":0.7},{"s":"L","x":-0.22,"y":-0.1},{"s":"L","x":-0.22,"y":-0.86},
      {"s":"L","x":-0.11,"y":1.75},{"s":"L","x":-0.11,"y":0.9},{"s":"L","x":-0.11,"y":0.1},{"s":"L","x":-0.11,"y":-0.81},
      {"s":"L","x":0,"y":1.87},{"s":"L","x":0,"y":1},{"s":"L","x":0,"y":0.2},{"s":"L","x":0,"y":-0.7},
      {"s":"L","x":0.1,"y":1.96},{"s":"L","x":0.1,"y":1.1},{"s":"L","x":0.1,"y":0.3},{"s":"L","x":0.1,"y":-0.6},
      {"s":"L","x":0.18,"y":2.04},{"s":"L","x":0.18,"y":1.2},{"s":"L","x":0.18,"y":0.4},{"s":"L","x":0.18,"y":-0.51},
      {"s":"L","x":0.26,"y":2.13},{"s":"L","x":0.26,"y":1.3},{"s":"L","x":0.26,"y":0.5},{"s":"L","x":0.26,"y":-0.42},
      {"s":"L","x":0.34,"y":2.21},{"s":"L","x":0.34,"y":1.4},{"s":"L","x":0.34,"y":0.6},{"s":"L","x":0.34,"y":-0.35},
      {"s":"L","x":0.41,"y":2.29},{"s":"L","x":0.41,"y":1.5},{"s":"L","x":0.41,"y":0.7},{"s":"L","x":0.41,"y":-0.3}
    ],
    "pd": [
      {"s":"N","x":-2.3,"y":-2},{"s":"N","x":-2.3,"y":-2.6},{"s":"N","x":-2.3,"y":-3.2},{"s":"N","x":-2.3,"y":-3.7},
      {"s":"N","x":-1.61,"y":-1.1},{"s":"N","x":-1.61,"y":-1.9},{"s":"N","x":-1.61,"y":-2.6},{"s":"N","x":-1.61,"y":-3.35},
      {"s":"N","x":-1.2,"y":-0.7},{"s":"N","x":-1.2,"y":-1.3},{"s":"N","x":-1.2,"y":-1.8},{"s":"N","x":-1.2,"y":-2.3},
      {"s":"N","x":-0.92,"y":0.1},{"s":"N","x":-0.92,"y":-0.5},{"s":"N","x":-0.92,"y":-1.2},{"s":"N","x":-0.92,"y":-1.9},
      {"s":"N","x":-0.69,"y":0.1},{"s":"N","x":-0.69,"y":-0.5},{"s":"N","x":-0.69,"y":-1},{"s":"N","x":-0.69,"y":-1.55},
      {"s":"N","x":-0.51,"y":0.3},{"s":"N","x":-0.51,"y":-0.2},{"s":"N","x":-0.51,"y":-0.8},{"s":"N","x":-0.51,"y":-1.35},
      {"s":"N","x":-0.36,"y":0.45},{"s":"N","x":-0.36,"y":-0.1},{"s":"N","x":-0.36,"y":-0.6},{"s":"N","x":-0.36,"y":-1.3},
      {"s":"N","x":-0.22,"y":0.9},{"s":"N","x":-0.22,"y":0.2},{"s":"N","x":-0.22,"y":-0.4},{"s":"N","x":-0.22,"y":-1},
      {"s":"N","x":-0.11,"y":0.95},{"s":"N","x":-0.11,"y":0.3},{"s":"N","x":-0.11,"y":-0.3},{"s":"N","x":-0.11,"y":-0.85},
      {"s":"N","x":0,"y":1},{"s":"N","x":0,"y":0.4},{"s":"N","x":0,"y":-0.1},{"s":"N","x":0,"y":-0.6},
      {"s":"N","x":0.1,"y":1.1},{"s":"N","x":0.1,"y":0.5},{"s":"N","x":0.1,"y":0},{"s":"N","x":0.1,"y":-0.45},
      {"s":"N","x":0.18,"y":1.2},{"s":"N","x":0.18,"y":0.6},{"s":"N","x":0.18,"y":0.1},{"s":"N","x":0.18,"y":-0.3},
      {"s":"N","x":0.26,"y":1.3},{"s":"N","x":0.26,"y":0.7},{"s":"N","x":0.26,"y":0.2},{"s":"N","x":0.26,"y":-0.2},
      {"s":"N","x":0.34,"y":1.4},{"s":"N","x":0.34,"y":0.8},{"s":"N","x":0.34,"y":0.3},{"s":"N","x":0.34,"y":-0.1},
      {"s":"N","x":0.41,"y":1.5},{"s":"N","x":0.41,"y":0.9},{"s":"N","x":0.41,"y":0.4},{"s":"N","x":0.41,"y":0},
      {"s":"S","x":-2.3,"y":-2.2},{"s":"S","x":-2.3,"y":-2.8},{"s":"S","x":-2.3,"y":-3.3},{"s":"S","x":-2.3,"y":-3.75},
      {"s":"S","x":-1.61,"y":-1.3},{"s":"S","x":-1.61,"y":-1.8},{"s":"S","x":-1.61,"y":-2.3},{"s":"S","x":-1.61,"y":-2.6},
      {"s":"S","x":-1.2,"y":-0.8},{"s":"S","x":-1.2,"y":-1.3},{"s":"S","x":-1.2,"y":-1.7},{"s":"S","x":-1.2,"y":-2},
      {"s":"S","x":-0.92,"y":-0.3},{"s":"S","x":-0.92,"y":-0.8},{"s":"S","x":-0.92,"y":-1.3},{"s":"S","x":-0.92,"y":-1.75},
      {"s":"S","x":-0.69,"y":-0.1},{"s":"S","x":-0.69,"y":-0.6},{"s":"S","x":-0.69,"y":-1},{"s":"S","x":-0.69,"y":-1.4},
      {"s":"S","x":-0.51,"y":0.1},{"s":"S","x":-0.51,"y":-0.4},{"s":"S","x":-0.51,"y":-0.8},{"s":"S","x":-0.51,"y":-1.2},
      {"s":"S","x":-0.36,"y":0.3},{"s":"S","x":-0.36,"y":-0.2},{"s":"S","x":-0.36,"y":-0.6},{"s":"S","x":-0.36,"y":-1.1},
      {"s":"S","x":-0.22,"y":0.5},{"s":"S","x":-0.22,"y":0},{"s":"S","x":-0.22,"y":-0.4},{"s":"S","x":-0.22,"y":-0.9},
      {"s":"S","x":-0.11,"y":0.7},{"s":"S","x":-0.11,"y":0.1},{"s":"S","x":-0.11,"y":-0.4},{"s":"S","x":-0.11,"y":-0.9},
      {"s":"S","x":0,"y":0.8},{"s":"S","x":0,"y":0.2},{"s":"S","x":0,"y":-0.3},{"s":"S","x":0,"y":-0.75},
      {"s":"S","x":0.1,"y":0.9},{"s":"S","x":0.1,"y":0.3},{"s":"S","x":0.1,"y":-0.2},{"s":"S","x":0.1,"y":-0.6},
      {"s":"S","x":0.18,"y":1},{"s":"S","x":0.18,"y":0.4},{"s":"S","x":0.18,"y":-0.1},{"s":"S","x":0.18,"y":-0.5},
      {"s":"S","x":0.26,"y":1.05},{"s":"S","x":0.26,"y":0.5},{"s":"S","x":0.26,"y":0},{"s":"S","x":0.26,"y":-0.4},
      {"s":"S","x":0.34,"y":1.1},{"s":"S","x":0.34,"y":0.6},{"s":"S","x":0.34,"y":0.1},{"s":"S","x":0.34,"y":-0.3},
      {"s":"S","x":0.41,"y":1.2},{"s":"S","x":0.41,"y":0.7},{"s":"S","x":0.41,"y":0.2},{"s":"S","x":0.41,"y":-0.25},
      {"s":"M","x":-2.3,"y":-2.3},{"s":"M","x":-2.3,"y":-2.9},{"s":"M","x":-2.3,"y":-3.4},{"s":"M","x":-2.3,"y":-3.6},
      {"s":"M","x":-1.61,"y":-0.95},{"s":"M","x":-1.61,"y":-1.6},{"s":"M","x":-1.61,"y":-2.3},{"s":"M","x":-1.61,"y":-2.9},
      {"s":"M","x":-1.2,"y":-0.55},{"s":"M","x":-1.2,"y":-1.1},{"s":"M","x":-1.2,"y":-1.5},{"s":"M","x":-1.2,"y":-1.9},
      {"s":"M","x":-0.92,"y":-0.2},{"s":"M","x":-0.92,"y":-0.7},{"s":"M","x":-0.92,"y":-1.1},{"s":"M","x":-0.92,"y":-1.5},
      {"s":"M","x":-0.69,"y":0.1},{"s":"M","x":-0.69,"y":-0.4},{"s":"M","x":-0.69,"y":-0.8},{"s":"M","x":-0.69,"y":-1.2},
      {"s":"M","x":-0.51,"y":0.3},{"s":"M","x":-0.51,"y":-0.2},{"s":"M","x":-0.51,"y":-0.6},{"s":"M","x":-0.51,"y":-1},
      {"s":"M","x":-0.36,"y":0.4},{"s":"M","x":-0.36,"y":0},{"s":"M","x":-0.36,"y":-0.4},{"s":"M","x":-0.36,"y":-0.8},
      {"s":"M","x":-0.22,"y":0.6},{"s":"M","x":-0.22,"y":0.1},{"s":"M","x":-0.22,"y":-0.3},{"s":"M","x":-0.22,"y":-0.7},
      {"s":"M","x":-0.11,"y":0.8},{"s":"M","x":-0.11,"y":0.2},{"s":"M","x":-0.11,"y":-0.2},{"s":"M","x":-0.11,"y":-0.6},
      {"s":"M","x":0,"y":0.9},{"s":"M","x":0,"y":0.3},{"s":"M","x":0,"y":-0.1},{"s":"M","x":0,"y":-0.5},
      {"s":"M","x":0.1,"y":1},{"s":"M","x":0.1,"y":0.4},{"s":"M","x":0.1,"y":0},{"s":"M","x":0.1,"y":-0.4},
      {"s":"M","x":0.18,"y":1.1},{"s":"M","x":0.18,"y":0.5},{"s":"M","x":0.18,"y":0.1},{"s":"M","x":0.18,"y":-0.3},
      {"s":"M","x":0.26,"y":1.2},{"s":"M","x":0.26,"y":0.6},{"s":"M","x":0.26,"y":0.1},{"s":"M","x":0.26,"y":-0.2},
      {"s":"M","x":0.34,"y":1.25},{"s":"M","x":0.34,"y":0.7},{"s":"M","x":0.34,"y":0.2},{"s":"M","x":0.34,"y":-0.1},
      {"s":"M","x":0.41,"y":1.3},{"s":"M","x":0.41,"y":0.8},{"s":"M","x":0.41,"y":0.3},{"s":"M","x":0.41,"y":0},
      {"s":"L","x":-2.3,"y":-2.4},{"s":"L","x":-2.3,"y":-2.9},{"s":"L","x":-2.3,"y":-3.3},{"s":"L","x":-2.3,"y":-3.6},
      {"s":"L","x":-1.61,"y":-1.2},{"s":"L","x":-1.61,"y":-1.7},{"s":"L","x":-1.61,"y":-2.2},{"s":"L","x":-1.61,"y":-2.6},
      {"s":"L","x":-1.2,"y":-0.6},{"s":"L","x":-1.2,"y":-1},{"s":"L","x":-1.2,"y":-1.5},{"s":"L","x":-1.2,"y":-1.9},
      {"s":"L","x":-0.92,"y":-0.2},{"s":"L","x":-0.92,"y":-0.7},{"s":"L","x":-0.92,"y":-1.1},{"s":"L","x":-0.92,"y":-1.5},
      {"s":"L","x":-0.69,"y":0},{"s":"L","x":-0.69,"y":-0.4},{"s":"L","x":-0.69,"y":-0.9},{"s":"L","x":-0.69,"y":-1.3},
      {"s":"L","x":-0.51,"y":0.25},{"s":"L","x":-0.51,"y":-0.2},{"s":"L","x":-0.51,"y":-0.6},{"s":"L","x":-0.51,"y":-1},
      {"s":"L","x":-0.36,"y":0.35},{"s":"L","x":-0.36,"y":-0.1},{"s":"L","x":-0.36,"y":-0.5},{"s":"L","x":-0.36,"y":-0.9},
      {"s":"L","x":-0.22,"y":0.5},{"s":"L","x":-0.22,"y":0},{"s":"L","x":-0.22,"y":-0.3},{"s":"L","x":-0.22,"y":-0.7},
      {"s":"L","x":-0.11,"y":0.7},{"s":"L","x":-0.11,"y":0.2},{"s":"L","x":-0.11,"y":-0.2},{"s":"L","x":-0.11,"y":-0.6},
      {"s":"L","x":0,"y":0.85},{"s":"L","x":0,"y":0.3},{"s":"L","x":0,"y":-0.1},{"s":"L","x":0,"y":-0.5},
      {"s":"L","x":0.1,"y":0.95},{"s":"L","x":0.1,"y":0.4},{"s":"L","x":0.1,"y":0},{"s":"L","x":0.1,"y":-0.4},
      {"s":"L","x":0.18,"y":1.05},{"s":"L","x":0.18,"y":0.5},{"s":"L","x":0.18,"y":0.1},{"s":"L","x":0.18,"y":-0.3},
      {"s":"L","x":0.26,"y":1.1},{"s":"L","x":0.26,"y":0.6},{"s":"L","x":0.26,"y":0.2},{"s":"L","x":0.26,"y":-0.2},
      {"s":"L","x":0.34,"y":1.2},{"s":"L","x":0.34,"y":0.7},{"s":"L","x":0.34,"y":0.3},{"s":"L","x":0.34,"y":-0.1},
      {"s":"L","x":0.41,"y":1.3},{"s":"L","x":0.41,"y":0.8},{"s":"L","x":0.41,"y":0.35},{"s":"L","x":0.41,"y":0}
    ],
    "pe": [
      {"s":"N","x":-2.3,"y":-1.58},{"s":"N","x":-2.3,"y":-2.2},{"s":"N","x":-2.3,"y":-2.9},{"s":"N","x":-2.3,"y":-3.5},
      {"s":"N","x":-1.61,"y":-0.79},{"s":"N","x":-1.61,"y":-1.5},{"s":"N","x":-1.61,"y":-2.2},{"s":"N","x":-1.61,"y":-2.8},
      {"s":"N","x":-1.2,"y":-0.07},{"s":"N","x":-1.2,"y":-0.8},{"s":"N","x":-1.2,"y":-1.5},{"s":"N","x":-1.2,"y":-2.12},
      {"s":"N","x":-0.92,"y":0.2},{"s":"N","x":-0.92,"y":-0.4},{"s":"N","x":-0.92,"y":-0.9},{"s":"N","x":-0.92,"y":-1.35},
      {"s":"N","x":-0.69,"y":0.52},{"s":"N","x":-0.69,"y":-0.1},{"s":"N","x":-0.69,"y":-0.7},{"s":"N","x":-0.69,"y":-1.24},
      {"s":"N","x":-0.51,"y":0.81},{"s":"N","x":-0.51,"y":0.2},{"s":"N","x":-0.51,"y":-0.4},{"s":"N","x":-0.51,"y":-1},
      {"s":"N","x":-0.36,"y":1.02},{"s":"N","x":-0.36,"y":0.3},{"s":"N","x":-0.36,"y":-0.3},{"s":"N","x":-0.36,"y":-0.93},
      {"s":"N","x":-0.22,"y":1.13},{"s":"N","x":-0.22,"y":0.4},{"s":"N","x":-0.22,"y":-0.3},{"s":"N","x":-0.22,"y":-0.86},
      {"s":"N","x":-0.11,"y":1.2},{"s":"N","x":-0.11,"y":0.5},{"s":"N","x":-0.11,"y":-0.2},{"s":"N","x":-0.11,"y":-0.79},
      {"s":"N","x":0,"y":1.38},{"s":"N","x":0,"y":0.6},{"s":"N","x":0,"y":-0.2},{"s":"N","x":0,"y":-0.74},
      {"s":"N","x":0.1,"y":1.49},{"s":"N","x":0.1,"y":0.7},{"s":"N","x":0.1,"y":-0.1},{"s":"N","x":0.1,"y":-0.68},
      {"s":"N","x":0.18,"y":1.69},{"s":"N","x":0.18,"y":0.8},{"s":"N","x":0.18,"y":-0.1},{"s":"N","x":0.18,"y":-0.63},
      {"s":"N","x":0.26,"y":1.78},{"s":"N","x":0.26,"y":0.9},{"s":"N","x":0.26,"y":0},{"s":"N","x":0.26,"y":-0.57},
      {"s":"N","x":0.34,"y":1.94},{"s":"N","x":0.34,"y":1},{"s":"N","x":0.34,"y":0.1},{"s":"N","x":0.34,"y":-0.5},
      {"s":"N","x":0.41,"y":1.85},{"s":"N","x":0.41,"y":1.1},{"s":"N","x":0.41,"y":0.2},{"s":"N","x":0.41,"y":-0.45},
      {"s":"S","x":-2.3,"y":-1.5},{"s":"S","x":-2.3,"y":-2.5},{"s":"S","x":-2.3,"y":-3.1},{"s":"S","x":-2.3,"y":-3.68},
      {"s":"S","x":-1.61,"y":-0.45},{"s":"S","x":-1.61,"y":-1.4},{"s":"S","x":-1.61,"y":-2.3},{"s":"S","x":-1.61,"y":-3},
      {"s":"S","x":-1.2,"y":0},{"s":"S","x":-1.2,"y":-0.6},{"s":"S","x":-1.2,"y":-1.3},{"s":"S","x":-1.2,"y":-2.1},
      {"s":"S","x":-0.92,"y":0.27},{"s":"S","x":-0.92,"y":-0.3},{"s":"S","x":-0.92,"y":-0.9},{"s":"S","x":-0.92,"y":-1.4},
      {"s":"S","x":-0.69,"y":0.4},{"s":"S","x":-0.69,"y":-0.2},{"s":"S","x":-0.69,"y":-0.7},{"s":"S","x":-0.69,"y":-1},
      {"s":"S","x":-0.51,"y":0.7},{"s":"S","x":-0.51,"y":0.1},{"s":"S","x":-0.51,"y":-0.4},{"s":"S","x":-0.51,"y":-0.8},
      {"s":"S","x":-0.36,"y":0.81},{"s":"S","x":-0.36,"y":0.2},{"s":"S","x":-0.36,"y":-0.3},{"s":"S","x":-0.36,"y":-0.6},
      {"s":"S","x":-0.22,"y":1.05},{"s":"S","x":-0.22,"y":0.4},{"s":"S","x":-0.22,"y":-0.1},{"s":"S","x":-0.22,"y":-0.5},
      {"s":"S","x":-0.11,"y":1.15},{"s":"S","x":-0.11,"y":0.5},{"s":"S","x":-0.11,"y":0},{"s":"S","x":-0.11,"y":-0.35},
      {"s":"S","x":0,"y":1.2},{"s":"S","x":0,"y":0.6},{"s":"S","x":0,"y":0.1},{"s":"S","x":0,"y":-0.3},
      {"s":"S","x":0.1,"y":1.3},{"s":"S","x":0.1,"y":0.7},{"s":"S","x":0.1,"y":0.2},{"s":"S","x":0.1,"y":-0.2},
      {"s":"S","x":0.18,"y":1.4},{"s":"S","x":0.18,"y":0.8},{"s":"S","x":0.18,"y":0.3},{"s":"S","x":0.18,"y":-0.1},
      {"s":"S","x":0.26,"y":1.5},{"s":"S","x":0.26,"y":0.9},{"s":"S","x":0.26,"y":0.35},{"s":"S","x":0.26,"y":0},
      {"s":"S","x":0.34,"y":1.6},{"s":"S","x":0.34,"y":1},{"s":"S","x":0.34,"y":0.4},{"s":"S","x":0.34,"y":0.05},
      {"s":"S","x":0.41,"y":1.75},{"s":"S","x":0.41,"y":1.1},{"s":"S","x":0.41,"y":0.5},{"s":"S","x":0.41,"y":0.1},
      {"s":"M","x":-2.3,"y":-1.4},{"s":"M","x":-2.3,"y":-2.1},{"s":"M","x":-2.3,"y":-2.8},{"s":"M","x":-2.3,"y":-3.45},
      {"s":"M","x":-1.61,"y":-0.85},{"s":"M","x":-1.61,"y":-1.4},{"s":"M","x":-1.61,"y":-1.9},{"s":"M","x":-1.61,"y":-2.6},
      {"s":"M","x":-1.2,"y":-0.3},{"s":"M","x":-1.2,"y":-0.8},{"s":"M","x":-1.2,"y":-1.3},{"s":"M","x":-1.2,"y":-1.8},
      {"s":"M","x":-0.92,"y":0.1},{"s":"M","x":-0.92,"y":-0.4},{"s":"M","x":-0.92,"y":-1},{"s":"M","x":-0.92,"y":-1.45},
      {"s":"M","x":-0.69,"y":0.35},{"s":"M","x":-0.69,"y":-0.2},{"s":"M","x":-0.69,"y":-0.6},{"s":"M","x":-0.69,"y":-0.95},
      {"s":"M","x":-0.51,"y":0.6},{"s":"M","x":-0.51,"y":0},{"s":"M","x":-0.51,"y":-0.5},{"s":"M","x":-0.51,"y":-0.98},
      {"s":"M","x":-0.36,"y":0.75},{"s":"M","x":-0.36,"y":0.2},{"s":"M","x":-0.36,"y":-0.3},{"s":"M","x":-0.36,"y":-0.72},
      {"s":"M","x":-0.22,"y":1},{"s":"M","x":-0.22,"y":0.4},{"s":"M","x":-0.22,"y":-0.1},{"s":"M","x":-0.22,"y":-0.65},
      {"s":"M","x":-0.11,"y":1.29},{"s":"M","x":-0.11,"y":0.6},{"s":"M","x":-0.11,"y":0},{"s":"M","x":-0.11,"y":-0.4},
      {"s":"M","x":0,"y":1.47},{"s":"M","x":0,"y":0.7},{"s":"M","x":0,"y":0.1},{"s":"M","x":0,"y":-0.37},
      {"s":"M","x":0.1,"y":1.65},{"s":"M","x":0.1,"y":0.8},{"s":"M","x":0.1,"y":0.2},{"s":"M","x":0.1,"y":-0.25},
      {"s":"M","x":0.18,"y":1.8},{"s":"M","x":0.18,"y":0.9},{"s":"M","x":0.18,"y":0.3},{"s":"M","x":0.18,"y":-0.14},
      {"s":"M","x":0.26,"y":1.94},{"s":"M","x":0.26,"y":1},{"s":"M","x":0.26,"y":0.4},{"s":"M","x":0.26,"y":-0.05},
      {"s":"M","x":0.34,"y":2.09},{"s":"M","x":0.34,"y":1.1},{"s":"M","x":0.34,"y":0.5},{"s":"M","x":0.34,"y":0.02},
      {"s":"M","x":0.41,"y":2.2},{"s":"M","x":0.41,"y":1.3},{"s":"M","x":0.41,"y":0.6},{"s":"M","x":0.41,"y":0.09},
      {"s":"L","x":-2.3,"y":-1.8},{"s":"L","x":-2.3,"y":-2.5},{"s":"L","x":-2.3,"y":-3},{"s":"L","x":-2.3,"y":-3.3},
      {"s":"L","x":-1.61,"y":-0.59},{"s":"L","x":-1.61,"y":-1.4},{"s":"L","x":-1.61,"y":-2},{"s":"L","x":-1.61,"y":-2.73},
      {"s":"L","x":-1.2,"y":-0.2},{"s":"L","x":-1.2,"y":-0.8},{"s":"L","x":-1.2,"y":-1.4},{"s":"L","x":-1.2,"y":-1.98},
      {"s":"L","x":-0.92,"y":0.15},{"s":"L","x":-0.92,"y":-0.4},{"s":"L","x":-0.92,"y":-1},{"s":"L","x":-0.92,"y":-1.6},
      {"s":"L","x":-0.69,"y":0.3},{"s":"L","x":-0.69,"y":-0.2},{"s":"L","x":-0.69,"y":-0.7},{"s":"L","x":-0.69,"y":-1.1},
      {"s":"L","x":-0.51,"y":0.65},{"s":"L","x":-0.51,"y":0.1},{"s":"L","x":-0.51,"y":-0.4},{"s":"L","x":-0.51,"y":-0.9},
      {"s":"L","x":-0.36,"y":1},{"s":"L","x":-0.36,"y":0.4},{"s":"L","x":-0.36,"y":-0.2},{"s":"L","x":-0.36,"y":-0.65},
      {"s":"L","x":-0.22,"y":1.24},{"s":"L","x":-0.22,"y":0.5},{"s":"L","x":-0.22,"y":0},{"s":"L","x":-0.22,"y":-0.55},
      {"s":"L","x":-0.11,"y":1.46},{"s":"L","x":-0.11,"y":0.7},{"s":"L","x":-0.11,"y":0.1},{"s":"L","x":-0.11,"y":-0.47},
      {"s":"L","x":0,"y":1.66},{"s":"L","x":0,"y":0.9},{"s":"L","x":0,"y":0.2},{"s":"L","x":0,"y":-0.3},
      {"s":"L","x":0.1,"y":1.83},{"s":"L","x":0.1,"y":1},{"s":"L","x":0.1,"y":0.3},{"s":"L","x":0.1,"y":-0.15},
      {"s":"L","x":0.18,"y":1.95},{"s":"L","x":0.18,"y":1.1},{"s":"L","x":0.18,"y":0.4},{"s":"L","x":0.18,"y":0},
      {"s":"L","x":0.26,"y":2.05},{"s":"L","x":0.26,"y":1.2},{"s":"L","x":0.26,"y":0.5},{"s":"L","x":0.26,"y":0.05},
      {"s":"L","x":0.34,"y":2.18},{"s":"L","x":0.34,"y":1.3},{"s":"L","x":0.34,"y":0.6},{"s":"L","x":0.34,"y":0.1},
      {"s":"L","x":0.41,"y":2.28},{"s":"L","x":0.41,"y":1.4},{"s":"L","x":0.41,"y":0.7},{"s":"L","x":0.41,"y":0.15}
    ],
    "pf": [
      {"s":"N","x":-2.3,"y":-1.5},{"s":"N","x":-2.3,"y":-2.1},{"s":"N","x":-2.3,"y":-2.7},{"s":"N","x":-2.3,"y":-3.31},
      {"s":"N","x":-1.61,"y":-0.28},{"s":"N","x":-1.61,"y":-1.2},{"s":"N","x":-1.61,"y":-1.9},{"s":"N","x":-1.61,"y":-2.69},
      {"s":"N","x":-1.2,"y":-0.2},{"s":"N","x":-1.2,"y":-1.1},{"s":"N","x":-1.2,"y":-1.95},{"s":"N","x":-1.2,"y":-2.39},
      {"s":"N","x":-0.92,"y":0.3},{"s":"N","x":-0.92,"y":-0.7},{"s":"N","x":-0.92,"y":-1.58},{"s":"N","x":-0.92,"y":-2.02},
      {"s":"N","x":-0.69,"y":0.75},{"s":"N","x":-0.69,"y":-0.3},{"s":"N","x":-0.69,"y":-1.2},{"s":"N","x":-0.69,"y":-1.73},
      {"s":"N","x":-0.51,"y":0.9},{"s":"N","x":-0.51,"y":-0.2},{"s":"N","x":-0.51,"y":-1.25},{"s":"N","x":-0.51,"y":-1.61},
      {"s":"N","x":-0.36,"y":1.1},{"s":"N","x":-0.36,"y":0.1},{"s":"N","x":-0.36,"y":-0.9},{"s":"N","x":-0.36,"y":-1.51},
      {"s":"N","x":-0.22,"y":1.25},{"s":"N","x":-0.22,"y":0.3},{"s":"N","x":-0.22,"y":-0.7},{"s":"N","x":-0.22,"y":-1.39},
      {"s":"N","x":-0.11,"y":1.4},{"s":"N","x":-0.11,"y":0.4},{"s":"N","x":-0.11,"y":-0.6},{"s":"N","x":-0.11,"y":-1.29},
      {"s":"N","x":0,"y":1.7},{"s":"N","x":0,"y":0.6},{"s":"N","x":0,"y":-0.4},{"s":"N","x":0,"y":-1.18},
      {"s":"N","x":0.1,"y":1.79},{"s":"N","x":0.1,"y":0.7},{"s":"N","x":0.1,"y":-0.3},{"s":"N","x":0.1,"y":-1.09},
      {"s":"N","x":0.18,"y":1.9},{"s":"N","x":0.18,"y":0.8},{"s":"N","x":0.18,"y":-0.2},{"s":"N","x":0.18,"y":-0.99},
      {"s":"N","x":0.26,"y":2},{"s":"N","x":0.26,"y":0.9},{"s":"N","x":0.26,"y":-0.1},{"s":"N","x":0.26,"y":-0.89},
      {"s":"N","x":0.34,"y":2.07},{"s":"N","x":0.34,"y":1},{"s":"N","x":0.34,"y":0},{"s":"N","x":0.34,"y":-0.79},
      {"s":"N","x":0.41,"y":2.14},{"s":"N","x":0.41,"y":1.1},{"s":"N","x":0.41,"y":0.1},{"s":"N","x":0.41,"y":-0.72},
      {"s":"S","x":-2.3,"y":-1.16},{"s":"S","x":-2.3,"y":-1.8},{"s":"S","x":-2.3,"y":-2.6},{"s":"S","x":-2.3,"y":-3},
      {"s":"S","x":-1.61,"y":-0.5},{"s":"S","x":-1.61,"y":-1.1},{"s":"S","x":-1.61,"y":-1.7},{"s":"S","x":-1.61,"y":-2.25},
      {"s":"S","x":-1.2,"y":0},{"s":"S","x":-1.2,"y":-0.6},{"s":"S","x":-1.2,"y":-1.2},{"s":"S","x":-1.2,"y":-1.74},
      {"s":"S","x":-0.92,"y":0.3},{"s":"S","x":-0.92,"y":-0.3},{"s":"S","x":-0.92,"y":-0.9},{"s":"S","x":-0.92,"y":-1.2},
      {"s":"S","x":-0.69,"y":0.5},{"s":"S","x":-0.69,"y":-0.1},{"s":"S","x":-0.69,"y":-0.6},{"s":"S","x":-0.69,"y":-1},
      {"s":"S","x":-0.51,"y":0.7},{"s":"S","x":-0.51,"y":0.1},{"s":"S","x":-0.51,"y":-0.4},{"s":"S","x":-0.51,"y":-0.85},
      {"s":"S","x":-0.36,"y":0.9},{"s":"S","x":-0.36,"y":0.2},{"s":"S","x":-0.36,"y":-0.4},{"s":"S","x":-0.36,"y":-0.65},
      {"s":"S","x":-0.22,"y":1},{"s":"S","x":-0.22,"y":0.3},{"s":"S","x":-0.22,"y":-0.3},{"s":"S","x":-0.22,"y":-0.6},
      {"s":"S","x":-0.11,"y":1.15},{"s":"S","x":-0.11,"y":0.5},{"s":"S","x":-0.11,"y":-0.1},{"s":"S","x":-0.11,"y":-0.5},
      {"s":"S","x":0,"y":1.3},{"s":"S","x":0,"y":0.6},{"s":"S","x":0,"y":0},{"s":"S","x":0,"y":-0.45},
      {"s":"S","x":0.1,"y":1.35},{"s":"S","x":0.1,"y":0.7},{"s":"S","x":0.1,"y":0.1},{"s":"S","x":0.1,"y":-0.4},
      {"s":"S","x":0.18,"y":1.4},{"s":"S","x":0.18,"y":0.8},{"s":"S","x":0.18,"y":0.2},{"s":"S","x":0.18,"y":-0.3},
      {"s":"S","x":0.26,"y":1.45},{"s":"S","x":0.26,"y":0.8},{"s":"S","x":0.26,"y":0.3},{"s":"S","x":0.26,"y":-0.2},
      {"s":"S","x":0.34,"y":1.55},{"s":"S","x":0.34,"y":0.9},{"s":"S","x":0.34,"y":0.35},{"s":"S","x":0.34,"y":-0.1},
      {"s":"S","x":0.41,"y":1.65},{"s":"S","x":0.41,"y":1},{"s":"S","x":0.41,"y":0.4},{"s":"S","x":0.41,"y":-0.05},
      {"s":"M","x":-2.3,"y":-1.5},{"s":"M","x":-2.3,"y":-2.2},{"s":"M","x":-2.3,"y":-2.8},{"s":"M","x":-2.3,"y":-3.46},
      {"s":"M","x":-1.61,"y":-0.6},{"s":"M","x":-1.61,"y":-1},{"s":"M","x":-1.61,"y":-1.6},{"s":"M","x":-1.61,"y":-2.1},
      {"s":"M","x":-1.2,"y":0},{"s":"M","x":-1.2,"y":-0.5},{"s":"M","x":-1.2,"y":-1},{"s":"M","x":-1.2,"y":-1.5},
      {"s":"M","x":-0.92,"y":0.62},{"s":"M","x":-0.92,"y":0},{"s":"M","x":-0.92,"y":-0.6},{"s":"M","x":-0.92,"y":-1},
      {"s":"M","x":-0.69,"y":0.94},{"s":"M","x":-0.69,"y":0.3},{"s":"M","x":-0.69,"y":-0.3},{"s":"M","x":-0.69,"y":-0.8},
      {"s":"M","x":-0.51,"y":1.16},{"s":"M","x":-0.51,"y":0.5},{"s":"M","x":-0.51,"y":-0.1},{"s":"M","x":-0.51,"y":-0.6},
      {"s":"M","x":-0.36,"y":1.24},{"s":"M","x":-0.36,"y":0.6},{"s":"M","x":-0.36,"y":0},{"s":"M","x":-0.36,"y":-0.5},
      {"s":"M","x":-0.22,"y":1.38},{"s":"M","x":-0.22,"y":0.8},{"s":"M","x":-0.22,"y":0.1},{"s":"M","x":-0.22,"y":-0.4},
      {"s":"M","x":-0.11,"y":1.47},{"s":"M","x":-0.11,"y":0.9},{"s":"M","x":-0.11,"y":0.3},{"s":"M","x":-0.11,"y":-0.2},
      {"s":"M","x":0,"y":1.54},{"s":"M","x":0,"y":1},{"s":"M","x":0,"y":0.4},{"s":"M","x":0,"y":-0.1},
      {"s":"M","x":0.1,"y":1.61},{"s":"M","x":0.1,"y":1},{"s":"M","x":0.1,"y":0.4},{"s":"M","x":0.1,"y":-0.05},
      {"s":"M","x":0.18,"y":1.7},{"s":"M","x":0.18,"y":1.1},{"s":"M","x":0.18,"y":0.5},{"s":"M","x":0.18,"y":0},
      {"s":"M","x":0.26,"y":1.88},{"s":"M","x":0.26,"y":1.2},{"s":"M","x":0.26,"y":0.6},{"s":"M","x":0.26,"y":0.05},
      {"s":"M","x":0.34,"y":1.98},{"s":"M","x":0.34,"y":1.3},{"s":"M","x":0.34,"y":0.6},{"s":"M","x":0.34,"y":0.1},
      {"s":"M","x":0.41,"y":2.05},{"s":"M","x":0.41,"y":1.4},{"s":"M","x":0.41,"y":0.7},{"s":"M","x":0.41,"y":0.15},
      {"s":"L","x":-2.3,"y":-1.32},{"s":"L","x":-2.3,"y":-2},{"s":"L","x":-2.3,"y":-2.7},{"s":"L","x":-2.3,"y":-3.22},
      {"s":"L","x":-1.61,"y":-0.31},{"s":"L","x":-1.61,"y":-1},{"s":"L","x":-1.61,"y":-1.6},{"s":"L","x":-1.61,"y":-2.1},
      {"s":"L","x":-1.2,"y":0.18},{"s":"L","x":-1.2,"y":-0.4},{"s":"L","x":-1.2,"y":-1},{"s":"L","x":-1.2,"y":-1.45},
      {"s":"L","x":-0.92,"y":0.6},{"s":"L","x":-0.92,"y":-0.1},{"s":"L","x":-0.92,"y":-0.8},{"s":"L","x":-0.92,"y":-1.39},
      {"s":"L","x":-0.69,"y":0.85},{"s":"L","x":-0.69,"y":0.1},{"s":"L","x":-0.69,"y":-0.5},{"s":"L","x":-0.69,"y":-1.32},
      {"s":"L","x":-0.51,"y":1.1},{"s":"L","x":-0.51,"y":0.3},{"s":"L","x":-0.51,"y":-0.4},{"s":"L","x":-0.51,"y":-1.12},
      {"s":"L","x":-0.36,"y":1.35},{"s":"L","x":-0.36,"y":0.5},{"s":"L","x":-0.36,"y":-0.2},{"s":"L","x":-0.36,"y":-0.95},
      {"s":"L","x":-0.22,"y":1.52},{"s":"L","x":-0.22,"y":0.7},{"s":"L","x":-0.22,"y":0},{"s":"L","x":-0.22,"y":-0.86},
      {"s":"L","x":-0.11,"y":1.65},{"s":"L","x":-0.11,"y":0.8},{"s":"L","x":-0.11,"y":0.1},{"s":"L","x":-0.11,"y":-0.77},
      {"s":"L","x":0,"y":1.79},{"s":"L","x":0,"y":1},{"s":"L","x":0,"y":0.2},{"s":"L","x":0,"y":-0.7},
      {"s":"L","x":0.1,"y":1.91},{"s":"L","x":0.1,"y":1.1},{"s":"L","x":0.1,"y":0.3},{"s":"L","x":0.1,"y":-0.61},
      {"s":"L","x":0.18,"y":2.01},{"s":"L","x":0.18,"y":1.2},{"s":"L","x":0.18,"y":0.4},{"s":"L","x":0.18,"y":-0.52},
      {"s":"L","x":0.26,"y":2.11},{"s":"L","x":0.26,"y":1.3},{"s":"L","x":0.26,"y":0.5},{"s":"L","x":0.26,"y":-0.45},
      {"s":"L","x":0.34,"y":2.19},{"s":"L","x":0.34,"y":1.4},{"s":"L","x":0.34,"y":0.6},{"s":"L","x":0.34,"y":-0.37},
      {"s":"L","x":0.41,"y":2.26},{"s":"L","x":0.41,"y":1.5},{"s":"L","x":0.41,"y":0.7},{"s":"L","x":0.41,"y":-0.31}
    ]
  },
  "config": {
    "font": "Liberation Serif",
    "view": {"stroke": "#000000", "strokeWidth": 3.9},
    "axis": {
      "labelFont": "Liberation Serif", "labelFontSize": 62, "labelColor": "#000000",
      "titleFont": "Liberation Serif", "titleFontSize": 62, "titleFontWeight": "normal", "titleColor": "#000000",
      "grid": true, "gridColor": "#bdbdbd", "gridDash": [21, 19], "gridWidth": 2.9,
      "domain": false, "ticks": true, "tickColor": "#000000", "tickWidth": 3.9, "tickSize": -17.5,
      "labelFlush": false, "labelOverlap": false
    },
    "axisX": {"labelPadding": 35, "titlePadding": 5},
    "axisY": {"labelPadding": 41.7, "titlePadding": 16.5},
    "legend": {
      "labelFont": "Liberation Serif", "labelFontSize": 48.5, "labelColor": "#000000", "labelLimit": 2000,
      "symbolSize": 14952, "clipHeight": 53.4, "labelOffset": 10.7, "padding": 0, "rowPadding": 0,
      "symbolOpacity": 1, "symbolStrokeWidth": 0
    },
    "title": {"font": "Liberation Serif", "fontSize": 64, "fontWeight": "bold", "color": "#000000", "orient": "bottom", "offset": 38.8, "anchor": "middle"}
  }
}
